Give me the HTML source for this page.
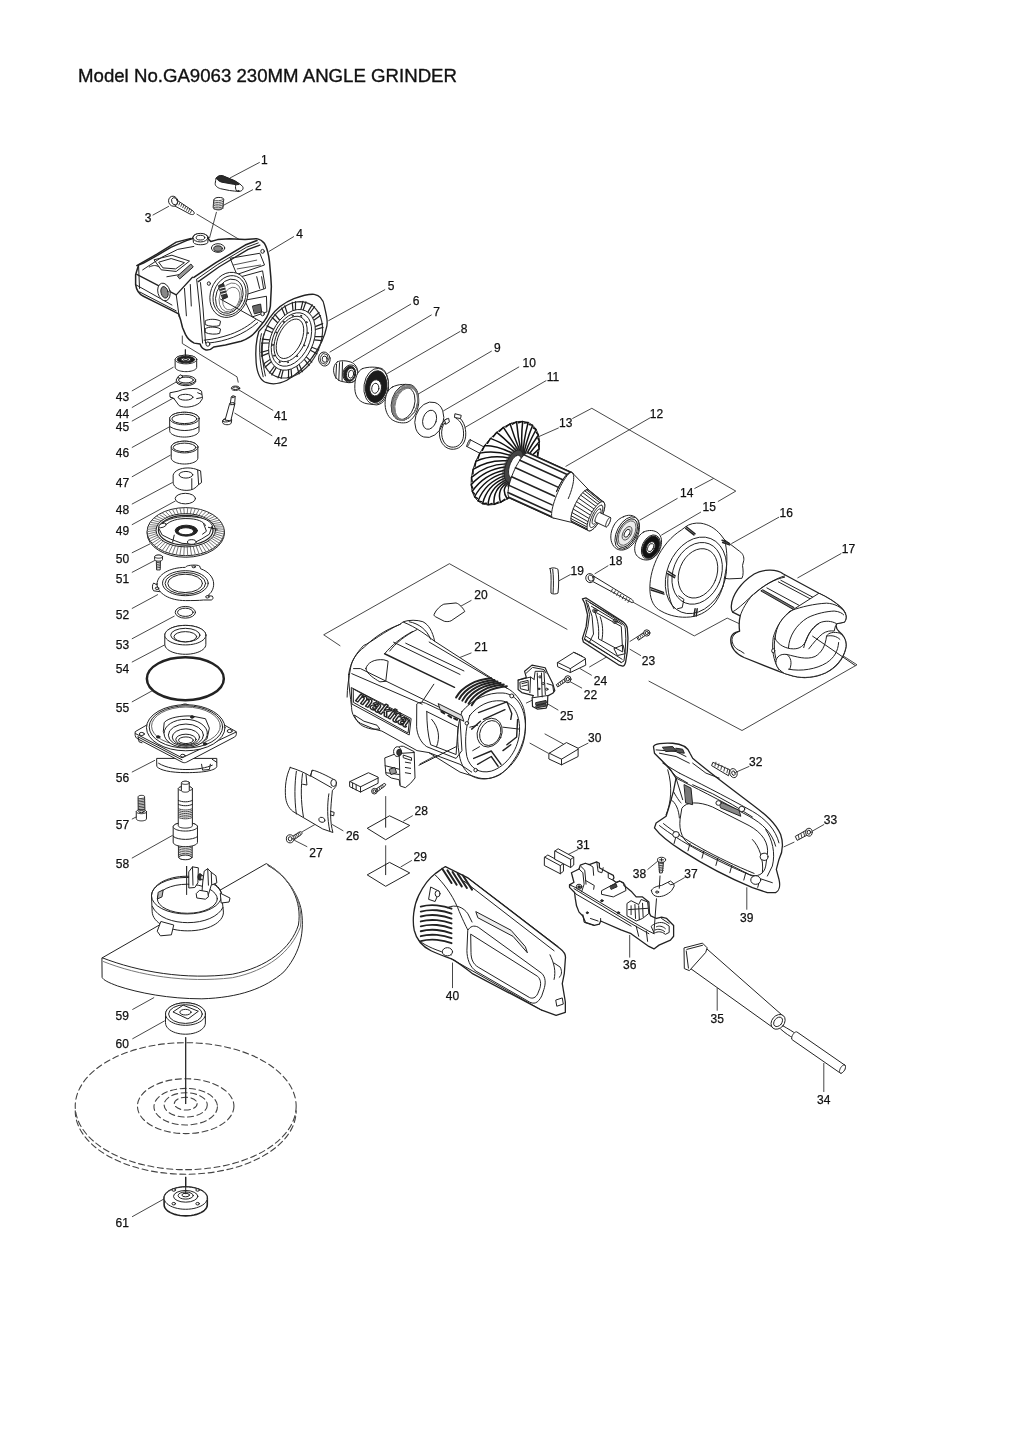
<!DOCTYPE html>
<html><head><meta charset="utf-8"><style>
html,body{margin:0;padding:0;background:#fff;}
body{width:1024px;height:1449px;overflow:hidden;position:relative;}
svg{position:absolute;left:0;top:0;}
svg *{vector-effect:non-scaling-stroke;}
svg{filter:grayscale(100%);}
.t{font-family:"Liberation Sans",sans-serif;}
</style></head><body>
<svg width="1024" height="1449" viewBox="0 0 1024 1449">
<text x="78" y="82" class="t" font-size="18.5" fill="#111" stroke="#111" stroke-width="0.35" textLength="379" lengthAdjust="spacingAndGlyphs">Model No.GA9063 230MM ANGLE GRINDER</text>
<g fill="none" stroke="#333" stroke-width="0.9" stroke-linecap="round" stroke-linejoin="round">
<polyline points="259.4,162.5 230.0,178.0"/>
<polyline points="252.6,189.8 223.3,205.4"/>
<polyline points="153.0,215.0 168.6,206.4"/>
<polyline points="293.6,236.7 269.2,251.3"/>
<polyline points="384.8,289.7 328.7,320.6"/>
<polyline points="410.7,304.2 330.0,352.0"/>
<polyline points="431.3,315.0 353.3,361.6"/>
<polyline points="460.0,331.5 387.5,373.4"/>
<polyline points="491.4,351.2 417.6,394.4"/>
<polyline points="518.8,367.0 443.6,410.8"/>
<polyline points="546.0,380.7 465.4,427.2"/>
<polyline points="649.8,418.0 565.9,466.3"/>
<polyline points="558.4,428.0 537.9,437.0"/>
<polyline points="572.7,418.4 591.8,408.3 735.8,491.1 718.2,501.4"/>
<polyline points="694.8,488.4 713.3,478.6"/>
<polyline points="677.2,498.5 640.0,520.0"/>
<polyline points="700.6,512.2 661.6,535.0"/>
<polyline points="778.7,517.3 731.7,543.5"/>
<polyline points="841.0,553.6 797.8,577.8"/>
<polyline points="608.0,565.8 595.0,573.7"/>
<polyline points="570.3,574.6 558.9,580.8"/>
<polyline points="471.1,600.5 460.1,606.6"/>
<polyline points="471.1,653.0 458.9,657.9"/>
<polyline points="581.7,688.0 570.3,681.8"/>
<polyline points="640.6,655.5 630.0,649.3"/>
<polyline points="591.4,675.2 580.0,668.6"/>
<polyline points="558.0,710.0 547.5,703.8"/>
<polyline points="343.0,830.7 332.4,824.6"/>
<polyline points="306.9,846.6 294.6,840.4"/>
<polyline points="412.4,815.8 403.6,821.0"/>
<polyline points="411.5,860.6 401.0,866.8"/>
<polyline points="588.0,743.2 578.1,748.2"/>
<polyline points="578.1,849.5 568.1,854.5"/>
<polyline points="749.0,766.5 737.5,771.5"/>
<polyline points="823.8,824.6 812.2,831.2"/>
<polyline points="823.8,1063.4 823.8,1091.6"/>
<polyline points="717.2,988.4 717.2,1010.3"/>
<polyline points="629.7,935.3 629.7,957.2"/>
<polyline points="684.4,877.7 672.7,884.4"/>
<polyline points="647.8,869.4 657.8,861.1"/>
<polyline points="746.8,887.7 746.8,909.3"/>
<polyline points="452.5,963.0 452.5,987.7"/>
<polyline points="272.9,410.3 238.7,389.8"/>
<polyline points="271.9,435.7 234.8,413.2"/>
<polyline points="132.2,390.8 173.2,367.3"/>
<polyline points="132.2,407.4 176.2,382.0"/>
<polyline points="132.2,421.0 172.3,398.6"/>
<polyline points="132.2,447.4 169.3,426.9"/>
<polyline points="132.2,476.7 170.3,455.2"/>
<polyline points="132.2,504.0 172.3,482.6"/>
<polyline points="132.2,524.6 175.2,501.1"/>
<polyline points="132.2,552.7 149.8,544.0"/>
<polyline points="132.2,572.3 154.7,560.5"/>
<polyline points="132.2,608.4 157.6,594.7"/>
<polyline points="132.2,638.7 174.2,616.2"/>
<polyline points="132.2,662.0 165.4,644.5"/>
<polyline points="132.2,701.8 151.8,691.0"/>
<polyline points="132.2,772.0 154.7,760.4"/>
<polyline points="132.2,819.0 136.1,817.0"/>
<polyline points="132.2,858.0 172.3,835.5"/>
<polyline points="132.7,1009.4 153.8,997.7"/>
<polyline points="132.7,1038.7 164.4,1021.0"/>
<polyline points="132.4,1216.6 164.1,1198.9"/>
<polyline points="196.9,214.2 242.8,241.6"/>
<polyline points="216.4,212.3 209.6,237.7"/>
<polyline points="182.3,336.0 182.3,343.5 237.0,376.8 238.2,382.2"/>
<polyline points="185.4,349.8 185.4,358.0"/>
<polyline points="221.0,299.5 262.9,321.0"/>
<polyline points="340.0,645.7 323.7,634.8 449.4,563.7 567.0,629.3"/>
<polyline points="632.6,602.0 694.3,635.9 727.2,618.1 740.0,624.0"/>
<polyline points="649.0,681.2 742.0,730.5 857.0,664.8 812.6,636.2"/>
<polyline points="530.0,743.2 548.2,753.2"/>
<polyline points="545.0,734.0 563.2,743.9"/>
<polyline points="419.9,764.0 454.0,745.8"/>
<polyline points="302.5,831.6 321.0,821.0"/>
<polyline points="385.7,796.5 385.7,827.2"/>
<polyline points="385.7,845.7 385.7,874.7"/>
<polyline points="784.0,846.8 794.0,842.2"/>
<polyline points="185.7,1037.6 185.7,1103.6"/>
<polyline points="185.7,1177.3 185.7,1192.5"/>
<polyline points="186.6,866.4 186.6,894.5"/>
<polyline points="589.6,666.9 621.3,648.4"/>
<polyline points="526.4,703.0 552.7,690.6"/>
<polyline points="630.0,641.4 637.0,637.0"/>
</g>
<g stroke="#222" stroke-width="1" fill="#fff" stroke-linejoin="round" stroke-linecap="round">
<g transform="translate(160,165) scale(0.087889)"><path d="M640,150 C650,125 680,115 710,120 L840,175 C880,195 920,220 940,245 C955,270 935,300 900,300 C870,300 830,295 790,290 L690,270 C650,258 625,235 628,210 C630,185 635,165 640,150 Z" /><path d="M645,148 C660,125 690,118 715,125 L850,180 C885,198 905,215 900,222 C880,225 860,225 840,220 L700,195 C670,185 648,170 645,148 Z" fill="#2a2a2a"/><path d="M862,228 C855,250 858,275 870,292" fill="none"/><ellipse cx="890" cy="296" rx="8" ry="6" fill="#111"/><path d="M612,395 C615,375 650,365 690,370 C720,375 728,385 725,395 L715,480 C712,505 680,515 650,510 C620,505 605,495 605,485 Z" /><path d="M610,400 C640,412 690,410 722,392" fill="none" stroke="#555"/><path d="M610,420 C640,432 690,430 722,412" fill="none" stroke="#555"/><path d="M610,440 C640,452 690,450 722,432" fill="none" stroke="#555"/><path d="M610,460 C640,472 690,470 722,452" fill="none" stroke="#555"/><path d="M610,480 C640,492 690,490 722,472" fill="none" stroke="#555"/><path d="M610,498 C640,510 690,508 722,490" fill="none" stroke="#555"/><path d="M190,398 L365,515 C385,528 395,545 388,556 C380,566 362,566 345,560 L160,462 Z" /><path d="M205,412 l-12,28" fill="none" stroke="#444"/><path d="M227,427 l-12,28" fill="none" stroke="#444"/><path d="M249,442 l-12,28" fill="none" stroke="#444"/><path d="M271,457 l-12,28" fill="none" stroke="#444"/><path d="M293,472 l-12,28" fill="none" stroke="#444"/><path d="M315,487 l-12,28" fill="none" stroke="#444"/><path d="M337,502 l-12,28" fill="none" stroke="#444"/><path d="M359,517 l-12,28" fill="none" stroke="#444"/><ellipse cx="150" cy="412" rx="52" ry="58" transform="rotate(-20 150 412)" /><ellipse cx="165" cy="412" rx="32" ry="42" transform="rotate(-20 165 412)" /></g>
<g transform="translate(120,140) scale(0.195312)"><path d="M80,690 L95,640 L120,630 L175,600 L260,550 L340,515 L372,505 C375,490 392,480 412,480 C435,481 452,492 455,510 L465,520 L500,510 L560,505 L640,510 L700,505 C715,508 728,515 740,530 C752,550 760,580 765,620 L772,700 L775,750 L770,850 C765,880 755,905 740,925 L700,975 C680,1000 650,1020 620,1030 L540,1050 L480,1060 C470,1070 455,1077 440,1075 C425,1072 415,1060 410,1045 L380,1040 C360,1030 345,1015 335,995 L320,960 L310,920 L300,890 L260,870 L180,830 L120,800 C100,790 85,775 80,740 Z" stroke-width="1.5"/><path d="M86,643 L191,583 L288,523 L364,504" fill="none" stroke-width="1.4"/><path d="M116,665 L213,601 L296,560 L378,545" fill="none"/><path d="M176,613 L266,590 L356,620 L288,673 L213,665 Z" fill="none"/><path d="M200,625 L262,607 L330,628 L285,660 L222,655 Z" fill="none"/><path d="M296,695 L363,635 L375,650 L307,710 Z" fill="#999"/><path d="M240,700 L300,690 M150,650 C170,640 185,640 200,650" fill="none"/><path d="M95,640 L100,760" fill="none"/><path d="M86,688 L288,793 L371,703" fill="none" stroke-width="1.3"/><path d="M79,740 L266,845" fill="none"/><path d="M101,778 L288,875" fill="none"/><path d="M288,793 L303,905" fill="none"/><path d="M330,760 L340,900 M360,740 L365,850" fill="none"/><ellipse cx="225" cy="778" rx="31" ry="46" transform="rotate(-15 225 778)" /><ellipse cx="228" cy="780" rx="18" ry="30" transform="rotate(-15 228 780)" fill="#888"/><path d="M378,703 L491,628 L641,538 L701,515" fill="none" stroke-width="1.6"/><path d="M401,725 L506,650 L656,560 L716,538" fill="none" stroke-width="1.3"/><path d="M391,714 L498,639 L648,549 L708,527" fill="none"/><path d="M393,718 L408,860 L423,1040 M412,730 L425,860 L438,1040" fill="none"/><path d="M566,605 L716,580 L740,640 L600,688 Z" fill="none"/><path d="M620,700 L730,670 L745,760 L650,790 Z" fill="none"/><path d="M640,820 L750,800 L752,880 L680,905 Z" fill="none"/><path d="M580,640 L700,615 M600,660 L720,640" fill="none" stroke="#555"/><path d="M680,850 L720,840 L725,880 L690,890 Z" fill="#666"/><path d="M700,700 L715,760 M725,700 L735,760" fill="none"/><ellipse cx="558" cy="793" rx="95" ry="118" transform="rotate(20 558 793)" /><ellipse cx="561" cy="796" rx="82" ry="104" transform="rotate(20 561 796)" fill="none"/><ellipse cx="560" cy="800" rx="68" ry="90" transform="rotate(20 560 800)" /><ellipse cx="565" cy="806" rx="55" ry="76" transform="rotate(20 565 806)" fill="none" stroke="#777"/><ellipse cx="570" cy="812" rx="42" ry="60" transform="rotate(20 570 812)" fill="none" stroke="#777"/><path d="M506,745 L530,735 L551,805 L528,815 Z" fill="#333"/><path d="M512,760 L540,752 M516,775 L544,767 M520,790 L548,782" fill="none" stroke="#fff"/><path d="M438,925 C455,915 495,915 515,928 L510,950 C495,956 455,956 438,946 Z" fill="none"/><path d="M438,965 C455,955 495,955 515,968 L510,990 C495,996 455,996 438,986 Z" fill="none"/><path d="M431,1025 C480,1020 520,1010 566,995 C620,975 660,950 694,920" fill="none"/><path d="M450,1040 C500,1035 540,1025 580,1010 C630,990 670,965 705,935" fill="none"/><ellipse cx="730" cy="570" rx="9" ry="10" /><ellipse cx="730" cy="890" rx="9" ry="10" /><ellipse cx="450" cy="1045" rx="10" ry="11" /><ellipse cx="502" cy="553" rx="34" ry="22" /><ellipse cx="502" cy="556" rx="22" ry="14" fill="#888"/><path d="M374,500 L376,525 C385,540 440,540 450,525 L450,500" fill="#fff"/><ellipse cx="412" cy="500" rx="38" ry="22" /><ellipse cx="412" cy="500" rx="22" ry="12" fill="none"/><ellipse cx="455" cy="735" rx="8" ry="9" /><polyline points="515,815 730,935" fill="none" /></g>
<g transform="translate(250,288) scale(0.087889)"><path d="M100,495 C150,450 190,400 230,330 C300,230 400,160 500,120 C590,88 670,66 730,72 C790,82 830,120 845,200 C860,280 890,360 875,430 C850,560 790,680 700,800 C620,900 520,990 420,1050 C340,1090 250,1100 180,1075 C120,1050 80,960 70,850 C60,720 70,590 100,495 Z" stroke-width="1.3"/><path d="M130,520 C100,640 100,800 150,1010" fill="none"/><path d="M160,520 C130,640 130,800 175,1000" fill="none"/><path d="M768.0,725.2 L746.3,767.6 L721.7,808.0 L694.4,846.0 L664.7,881.3 L633.0,913.3 L599.6,941.8 L564.9,966.4 L529.2,986.9 L492.9,1003.1 L456.5,1014.7 L420.3,1021.7 L384.7,1024.0 L350.2,1021.5 L317.1,1014.2 L285.7,1002.4 L256.4,986.0 L229.6,965.2 L205.5,940.4 L184.4,911.7 L166.5,879.5 L152.0,844.1 L141.0,806.0 L133.8,765.4 L130.3,723.0 L130.7,679.1 L134.8,634.2 L142.8,588.8 L154.3,543.5 L169.5,498.6 L188.0,454.8 L209.7,412.4 L234.3,372.0 L261.6,334.0 L291.3,298.7 L323.0,266.7 L356.4,238.2 L391.1,213.6 L426.8,193.1 L463.1,176.9 L499.5,165.3 L535.7,158.3 L571.3,156.0 L605.8,158.5 L638.9,165.8 L670.3,177.6 L699.6,194.0 L726.4,214.8 L750.5,239.6 L771.6,268.3 L789.5,300.5 L804.0,335.9 L815.0,374.0 L822.2,414.6 L825.7,457.0 L825.3,500.9 L821.2,545.8 L813.2,591.2 L801.7,636.5 L786.5,681.4 L768.0,725.2 Z" fill="none" stroke="#333" stroke-width="1.2"/><path d="M703,674 L782,705" fill="none" stroke="#222" stroke-width="1.2"/><path d="M687,709 L762,749" fill="none" stroke="#222" stroke-width="1.2"/><path d="M641,784 L703,844" fill="none" stroke="#222" stroke-width="1.2"/><path d="M618,813 L673,880" fill="none" stroke="#222" stroke-width="1.2"/><path d="M559,870 L596,952" fill="none" stroke="#222" stroke-width="1.2"/><path d="M532,890 L560,976" fill="none" stroke="#222" stroke-width="1.2"/><path d="M467,923 L475,1016" fill="none" stroke="#222" stroke-width="1.2"/><path d="M439,931 L438,1025" fill="none" stroke="#222" stroke-width="1.2"/><path d="M377,935 L354,1029" fill="none" stroke="#222" stroke-width="1.2"/><path d="M351,931 L320,1022" fill="none" stroke="#222" stroke-width="1.2"/><path d="M298,906 L248,989" fill="none" stroke="#222" stroke-width="1.2"/><path d="M279,890 L221,967" fill="none" stroke="#222" stroke-width="1.2"/><path d="M242,839 L170,901" fill="none" stroke="#222" stroke-width="1.2"/><path d="M230,812 L154,866" fill="none" stroke="#222" stroke-width="1.2"/><path d="M214,741 L129,775" fill="none" stroke="#222" stroke-width="1.2"/><path d="M211,708 L125,732" fill="none" stroke="#222" stroke-width="1.2"/><path d="M218,626 L131,627" fill="none" stroke="#222" stroke-width="1.2"/><path d="M225,590 L139,581" fill="none" stroke="#222" stroke-width="1.2"/><path d="M253,506 L174,475" fill="none" stroke="#222" stroke-width="1.2"/><path d="M269,471 L194,431" fill="none" stroke="#222" stroke-width="1.2"/><path d="M315,396 L253,336" fill="none" stroke="#222" stroke-width="1.2"/><path d="M338,367 L283,300" fill="none" stroke="#222" stroke-width="1.2"/><path d="M397,310 L360,228" fill="none" stroke="#222" stroke-width="1.2"/><path d="M424,290 L396,204" fill="none" stroke="#222" stroke-width="1.2"/><path d="M489,257 L481,164" fill="none" stroke="#222" stroke-width="1.2"/><path d="M517,249 L518,155" fill="none" stroke="#222" stroke-width="1.2"/><path d="M579,245 L602,151" fill="none" stroke="#222" stroke-width="1.2"/><path d="M605,249 L636,158" fill="none" stroke="#222" stroke-width="1.2"/><path d="M658,274 L708,191" fill="none" stroke="#222" stroke-width="1.2"/><path d="M677,290 L735,213" fill="none" stroke="#222" stroke-width="1.2"/><path d="M714,341 L786,279" fill="none" stroke="#222" stroke-width="1.2"/><path d="M726,368 L802,314" fill="none" stroke="#222" stroke-width="1.2"/><path d="M742,439 L827,405" fill="none" stroke="#222" stroke-width="1.2"/><path d="M745,472 L831,448" fill="none" stroke="#222" stroke-width="1.2"/><path d="M738,554 L825,553" fill="none" stroke="#222" stroke-width="1.2"/><path d="M731,590 L817,599" fill="none" stroke="#222" stroke-width="1.2"/><ellipse cx="478" cy="590" rx="240" ry="365" transform="rotate(25 478 590)" /><ellipse cx="472" cy="586" rx="205" ry="322" transform="rotate(25 472 586)" fill="none"/><ellipse cx="462" cy="580" rx="165" ry="275" transform="rotate(25 462 580)" fill="none"/><ellipse cx="455" cy="578" rx="132" ry="240" transform="rotate(25 455 578)" /><ellipse cx="616.604" cy="653.958" rx="7" ry="7" /><ellipse cx="534.075" cy="775.464" rx="7" ry="7" /><ellipse cx="431.162" cy="844.596" rx="7" ry="7" /><ellipse cx="335.441" cy="842.829" rx="7" ry="7" /><ellipse cx="272.559" cy="770.638" rx="7" ry="7" /><ellipse cx="259.365" cy="647.365" rx="7" ry="7" /><ellipse cx="299.396" cy="506.042" rx="7" ry="7" /><ellipse cx="381.925" cy="384.536" rx="7" ry="7" /><ellipse cx="484.838" cy="315.404" rx="7" ry="7" /><ellipse cx="580.559" cy="317.171" rx="7" ry="7" /><ellipse cx="643.441" cy="389.362" rx="7" ry="7" /><ellipse cx="656.635" cy="512.635" rx="7" ry="7" /><ellipse cx="846" cy="808" rx="66" ry="80" transform="rotate(-10 846 808)" /><path d="M800,790 L830,745 L880,760 L893,820 L862,868 L812,852 Z" fill="none" stroke="#444"/><ellipse cx="850" cy="810" rx="28" ry="36" transform="rotate(-10 850 810)" fill="none"/></g>
<g transform="translate(318,350) scale(0.148438)"><path d="M130,80 C150,68 195,70 230,85 C260,100 272,135 268,170 C262,205 240,222 205,220 L160,212 C130,205 108,180 105,140 C104,115 112,92 130,80 Z" /><path d="M125,95 L120,190 M145,85 L140,205 M165,80 L162,210" fill="none"/><ellipse cx="218" cy="160" rx="50" ry="60" transform="rotate(10 218 160)" /><ellipse cx="214" cy="160" rx="40" ry="52" transform="rotate(10 214 160)" fill="#222"/><ellipse cx="220" cy="162" rx="28" ry="40" transform="rotate(10 220 162)" /><ellipse cx="222" cy="163" rx="18" ry="27" transform="rotate(10 222 163)" fill="none"/><path d="M300,125 C340,112 390,112 430,125 C465,145 478,200 475,260 C470,320 440,365 395,370 L330,362 C285,355 250,320 248,260 C246,190 265,140 300,125 Z" /><ellipse cx="392" cy="245" rx="82" ry="122" transform="rotate(8 392 245)" /><ellipse cx="392" cy="247" rx="72" ry="108" transform="rotate(8 392 247)" fill="#1a1a1a"/><ellipse cx="388" cy="255" rx="40" ry="55" transform="rotate(8 388 255)" /><ellipse cx="386" cy="258" rx="24" ry="34" transform="rotate(8 386 258)" fill="none"/><path d="M500,250 C540,228 600,225 640,245 C670,265 682,310 678,360 C672,420 640,470 600,488 C570,495 530,490 500,470 C465,445 450,400 452,350 C455,300 470,268 500,250 Z" /><ellipse cx="585" cy="352" rx="88" ry="125" transform="rotate(18 585 352)" fill="none"/><ellipse cx="575" cy="362" rx="75" ry="112" transform="rotate(18 575 362)" /><ellipse cx="587" cy="354" rx="85" ry="122" transform="rotate(18 587 354)" fill="none" stroke="#777"/><ellipse cx="589" cy="356" rx="82" ry="119" transform="rotate(18 589 356)" fill="none" stroke="#777"/><ellipse cx="591" cy="358" rx="79" ry="116" transform="rotate(18 591 358)" fill="none" stroke="#777"/><ellipse cx="593" cy="360" rx="76" ry="113" transform="rotate(18 593 360)" fill="none" stroke="#777"/><ellipse cx="595" cy="362" rx="73" ry="110" transform="rotate(18 595 362)" fill="none" stroke="#777"/><ellipse cx="750" cy="470" rx="95" ry="122" transform="rotate(18 750 470)" /><ellipse cx="752" cy="470" rx="45" ry="66" transform="rotate(18 752 470)" /><path d="M935,445 C975,460 1000,520 995,580 C990,640 945,675 895,668 C845,660 815,610 818,550 C820,510 838,480 865,465" fill="none" stroke-width="1"/><path d="M930,460 C965,478 985,525 980,580 C975,630 940,660 897,654 C855,648 832,605 833,552 C835,515 848,492 868,480" fill="none"/><path d="M925,430 L965,440 L960,462 L922,455 Z" /><path d="M855,470 L880,460 L885,485 L862,500 Z" /></g>
<g transform="translate(460,410) scale(0.156250)"><path d="M44.2,231.6 L44.3,230.1 L44.6,228.2 L45.1,226.1 L45.7,223.8 L46.5,221.3 L47.5,218.6 L48.5,215.8 L49.7,212.9 L51.0,210.0 L52.3,207.2 L53.7,204.4 L55.1,201.7 L56.5,199.3 L57.9,197.0 L59.2,195.0 L60.5,193.3 L61.7,191.9 L62.7,190.9 L63.6,190.2 L64.4,189.9 L65.0,190.0 L160.0,240.0 L160.4,240.4 L160.7,241.3 L160.8,242.4 L160.7,243.9 L160.4,245.8 L159.9,247.9 L159.3,250.2 L158.5,252.7 L157.5,255.4 L156.4,258.2 L155.3,261.1 L154.0,264.0 L152.7,266.9 L151.3,269.6 L149.9,272.3 L148.5,274.7 L147.1,277.0 L145.8,279.0 L144.5,280.7 L143.3,282.1 L142.3,283.1 L141.4,283.8 L140.6,284.1 L140.0,284.0 L45.0,234.0 L44.6,233.6 L44.3,232.7 Z" /><path d="M65.0,190.0 L64.4,189.9 L63.6,190.2 L62.7,190.9 L61.7,191.9 L60.5,193.3 L59.2,195.0 L57.9,197.0 L56.5,199.3 L55.1,201.7 L53.7,204.4 L52.3,207.1 L51.0,210.0 L49.7,212.9 L48.5,215.8 L47.5,218.6 L46.5,221.3 L45.7,223.8 L45.1,226.1 L44.6,228.2 L44.3,230.1 L44.2,231.6 L44.3,232.7 L44.6,233.6 L45.0,234.0 L45.6,234.1 L46.4,233.8 L47.3,233.1 L48.3,232.1 L49.5,230.7 L50.8,229.0 L52.1,227.0 L53.5,224.7 L54.9,222.3 L56.3,219.6 L57.7,216.9 L59.0,214.0 L60.3,211.1 L61.5,208.2 L62.5,205.4 L63.5,202.7 L64.3,200.2 L64.9,197.9 L65.4,195.8 L65.7,193.9 L65.8,192.4 L65.7,191.3 L65.4,190.4 L65.0,190.0 Z" /><path d="M330.0,85.0 L311.1,92.9 L292.1,102.8 L273.0,114.4 L254.1,127.7 L235.4,142.7 L217.1,159.2 L199.4,177.0 L182.4,196.1 L166.3,216.3 L151.0,237.4 L136.8,259.3 L123.8,281.8 L112.0,304.7 L101.6,328.0 L92.7,351.3 L85.2,374.5 L79.3,397.5 L75.0,420.0 L72.3,441.9 L71.3,463.1 L72.0,483.3 L74.3,502.4 L78.2,520.3 L83.8,536.8 L90.9,551.8 L99.6,565.2 L109.7,576.9 L121.2,586.8 L133.9,594.8 L147.9,600.8 L162.9,604.9 L178.9,607.0 L195.7,607.0 L213.3,605.0 L231.4,601.0 L250.0,595.0 L268.9,587.1 L287.9,577.2 L307.0,565.6 L325.9,552.3 L344.6,537.3 L362.9,520.8 L380.6,503.0 L397.6,483.9 L413.7,463.7 L429.0,442.6 L443.2,420.7 L456.2,398.2 L468.0,375.3 L478.4,352.0 L487.3,328.7 L494.8,305.5 L500.7,282.5 L505.0,260.0 L507.7,238.1 L508.7,216.9 L508.0,196.7 L505.7,177.6 L501.8,159.7 L496.2,143.2 L489.1,128.2 L480.4,114.8 L470.3,103.1 L458.8,93.2 L446.1,85.2 L432.1,79.2 L417.1,75.1 L401.1,73.0 L384.3,73.0 L366.7,75.0 L348.6,79.0 L330.0,85.0 Z" /><path d="M360.0,260.0 Q296.0,190.3 235.4,142.7 L212.4,171.4" fill="none" stroke="#111" stroke-width="1.5"/><path d="M348.0,266.8 Q269.5,207.1 195.1,181.7 L175.4,213.0" fill="none" stroke="#111" stroke-width="1.5"/><path d="M335.9,277.2 Q243.7,229.0 158.5,226.7 L142.7,259.5" fill="none" stroke="#111" stroke-width="1.5"/><path d="M324.1,290.7 Q219.7,255.1 126.9,276.1 L115.8,309.2" fill="none" stroke="#111" stroke-width="1.5"/><path d="M313.2,307.0 Q198.5,284.5 101.6,328.0 L95.5,360.0" fill="none" stroke="#111" stroke-width="1.5"/><path d="M303.4,325.2 Q180.7,316.0 83.6,380.3 L82.7,410.0" fill="none" stroke="#111" stroke-width="1.5"/><path d="M295.3,344.8 Q167.2,348.4 73.5,431.0 L77.9,457.4" fill="none" stroke="#111" stroke-width="1.5"/><path d="M289.1,365.0 Q158.3,380.6 71.7,478.3 L81.2,500.2" fill="none" stroke="#111" stroke-width="1.5"/><path d="M285.0,385.0 Q154.5,411.1 78.2,520.3 L92.6,536.9" fill="none" stroke="#111" stroke-width="1.5"/><path d="M283.2,404.0 Q156.0,439.0 93.0,555.3 L111.5,566.0" fill="none" stroke="#111" stroke-width="1.5"/><path d="M283.8,421.4 Q162.6,463.0 115.3,582.1 L137.3,586.4" fill="none" stroke="#111" stroke-width="1.5"/><path d="M286.8,436.3 Q174.0,482.3 144.3,599.5 L169.0,597.4" fill="none" stroke="#111" stroke-width="1.5"/><path d="M292.0,448.4 Q190.0,496.1 178.9,607.0 L205.3,598.5" fill="none" stroke="#111" stroke-width="1.5"/><path d="M299.2,457.0 Q209.8,503.9 217.8,604.2 L244.8,589.6" fill="none" stroke="#111" stroke-width="1.5"/><path d="M308.2,462.0 Q232.6,505.5 259.4,591.3 L286.2,571.2" fill="none" stroke="#111" stroke-width="1.5"/><path d="M318.6,463.0 Q257.7,500.7 302.2,568.7 L327.6,543.8" fill="none" stroke="#111" stroke-width="1.5"/><path d="M330.0,460.0 Q284.0,489.7 344.6,537.3 L367.6,508.6" fill="none" stroke="#111" stroke-width="1.5"/><path d="M342.0,453.2 Q310.5,472.9 384.9,498.3 L404.6,467.0" fill="none" stroke="#111" stroke-width="1.5"/><path d="M354.1,442.8 Q336.3,451.0 421.5,453.3 L437.3,420.5" fill="none" stroke="#111" stroke-width="1.5"/><path d="M365.9,429.3 Q360.3,424.9 453.1,403.9 L464.2,370.8" fill="none" stroke="#111" stroke-width="1.5"/><path d="M376.8,413.0 Q381.5,395.5 478.4,352.0 L484.5,320.0" fill="none" stroke="#111" stroke-width="1.5"/><path d="M386.6,394.8 Q399.3,364.0 496.4,299.7 L497.3,270.0" fill="none" stroke="#111" stroke-width="1.5"/><path d="M394.7,375.2 Q412.8,331.6 506.5,249.0 L502.1,222.6" fill="none" stroke="#111" stroke-width="1.5"/><path d="M400.9,355.0 Q421.7,299.4 508.3,201.7 L498.8,179.8" fill="none" stroke="#111" stroke-width="1.5"/><path d="M405.0,335.0 Q425.5,268.9 501.8,159.7 L487.4,143.1" fill="none" stroke="#111" stroke-width="1.5"/><path d="M406.8,316.0 Q424.0,241.0 487.0,124.7 L468.5,114.0" fill="none" stroke="#111" stroke-width="1.5"/><path d="M406.2,298.6 Q417.4,217.0 464.7,97.9 L442.7,93.6" fill="none" stroke="#111" stroke-width="1.5"/><path d="M403.2,283.7 Q406.0,197.7 435.7,80.5 L411.0,82.6" fill="none" stroke="#111" stroke-width="1.5"/><path d="M398.0,271.6 Q390.0,183.9 401.1,73.0 L374.7,81.5" fill="none" stroke="#111" stroke-width="1.5"/><path d="M390.8,263.0 Q370.2,176.1 362.2,75.8 L335.2,90.4" fill="none" stroke="#111" stroke-width="1.5"/><path d="M381.8,258.0 Q347.4,174.5 320.6,88.7 L293.8,108.8" fill="none" stroke="#111" stroke-width="1.5"/><path d="M371.4,257.0 Q322.3,179.3 277.8,111.3 L252.4,136.2" fill="none" stroke="#111" stroke-width="1.5"/><path d="M367.0,235.0 L357.0,240.2 L346.8,247.5 L336.6,256.8 L326.6,267.7 L316.8,280.3 L307.5,294.2 L298.9,309.3 L291.0,325.2 L284.1,341.7 L278.2,358.6 L273.5,375.4 L270.0,392.0 L267.8,408.0 L266.9,423.3 L267.3,437.4 L269.0,450.2 L272.1,461.5 L276.4,471.0 L281.9,478.6 L288.4,484.3 L296.0,487.7 L304.3,489.0 L313.4,488.1 L323.0,485.0 L333.0,479.8 L343.2,472.5 L353.4,463.2 L363.4,452.3 L373.2,439.7 L382.5,425.8 L391.1,410.7 L399.0,394.8 L405.9,378.3 L411.8,361.4 L416.5,344.6 L420.0,328.0 L422.2,312.0 L423.1,296.7 L422.7,282.6 L421.0,269.8 L417.9,258.5 L413.6,249.0 L408.1,241.4 L401.6,235.7 L394.0,232.3 L385.7,231.0 L376.6,231.9 L367.0,235.0 Z" fill="#333" stroke="none" opacity="0.55"/><path d="M360.0,260.0 L352.0,264.1 L344.0,269.9 L335.9,277.2 L328.0,285.9 L320.4,295.9 L313.2,307.0 L306.5,319.0 L300.5,331.7 L295.3,344.8 L290.9,358.3 L287.5,371.7 L285.0,385.0 L283.6,397.8 L283.2,410.0 L283.8,421.4 L285.5,431.7 L288.3,440.7 L292.0,448.4 L296.6,454.6 L302.0,459.1 L308.2,462.0 L315.0,463.1 L322.3,462.4 L330.0,460.0 L338.0,455.9 L346.0,450.1 L354.1,442.8 L362.0,434.1 L369.6,424.1 L376.8,413.0 L383.5,401.0 L389.5,388.3 L394.7,375.2 L399.1,361.7 L402.5,348.3 L405.0,335.0 L406.4,322.2 L406.8,310.0 L406.2,298.6 L404.5,288.3 L401.7,279.3 L398.0,271.6 L393.4,265.4 L388.0,260.9 L381.8,258.0 L375.0,256.9 L367.7,257.6 L360.0,260.0 Z" fill="#444"/><path d="M362.0,292.0 L356.7,294.9 L351.3,299.0 L345.9,304.2 L340.7,310.4 L335.6,317.4 L330.8,325.2 L326.4,333.7 L322.4,342.6 L318.9,351.8 L316.0,361.3 L313.6,370.7 L312.0,380.0 L311.0,389.0 L310.8,397.5 L311.2,405.4 L312.4,412.6 L314.2,418.9 L316.6,424.2 L319.7,428.5 L323.3,431.6 L327.5,433.6 L332.0,434.3 L336.9,433.8 L342.0,432.0 L347.3,429.1 L352.7,425.0 L358.1,419.8 L363.3,413.6 L368.4,406.6 L373.2,398.8 L377.6,390.3 L381.6,381.4 L385.1,372.2 L388.0,362.7 L390.4,353.3 L392.0,344.0 L393.0,335.0 L393.2,326.5 L392.8,318.6 L391.6,311.4 L389.8,305.1 L387.4,299.8 L384.3,295.5 L380.7,292.4 L376.5,290.4 L372.0,289.7 L367.1,290.2 L362.0,292.0 Z" fill="#fff"/><path d="M307.3,534.6 L307.7,521.6 L309.3,507.0 L312.1,490.8 L316.1,473.4 L321.2,455.2 L327.2,436.3 L334.2,417.1 L342.0,398.0 L350.4,379.3 L359.3,361.2 L368.6,344.2 L378.1,328.4 L387.6,314.3 L397.0,301.9 L406.1,291.6 L414.7,283.4 L422.7,277.6 L430.1,274.2 L436.5,273.4 L442.0,275.0 L717.0,400.0 L721.4,404.1 L724.7,410.6 L726.8,419.5 L727.7,430.4 L727.3,443.4 L725.7,458.0 L722.9,474.2 L718.9,491.6 L713.8,509.8 L707.8,528.7 L700.8,547.9 L693.0,567.0 L684.6,585.7 L675.7,603.8 L666.4,620.8 L656.9,636.5 L647.4,650.7 L638.0,663.1 L629.0,673.4 L620.3,681.6 L612.3,687.4 L605.0,690.8 L598.5,691.6 L593.0,690.0 L318.0,565.0 L313.6,560.9 L310.3,554.4 L308.2,545.5 Z" /><path d="M311.8,557.9 L586.8,682.9" fill="none" stroke-width="1.6"/><path d="M307.3,528.3 L582.3,653.3" fill="none" stroke-width="1.6"/><path d="M314.0,482.3 L589.0,607.3" fill="none" stroke-width="1.6"/><path d="M330.6,426.7 L605.6,551.7" fill="none" stroke-width="1.6"/><path d="M354.8,370.1 L629.8,495.1" fill="none" stroke-width="1.6"/><path d="M382.8,321.1 L657.8,446.1" fill="none" stroke-width="1.6"/><path d="M410.4,287.2 L685.4,412.2" fill="none" stroke-width="1.6"/><path d="M433.4,273.5 L708.4,398.5" fill="none" stroke-width="1.6"/><path d="M617.0,523.0 L625.4,504.3 L634.3,486.2 L643.6,469.2 L653.1,453.4 L662.6,439.3 L672.0,426.9 L681.1,416.6 L689.7,408.4 L697.7,402.6 L705.1,399.2 L711.5,398.4 L717.0,400.0 L721.4,404.1 L724.7,410.6 L726.8,419.5 L727.7,430.4 L727.3,443.4 L725.7,458.0 L722.9,474.2 L718.9,491.6 L713.8,509.8 L707.8,528.7 L700.8,547.9 L693.0,567.0" fill="none"/><path d="M586.2,672.5 L586.3,662.1 L587.5,649.7 L590.0,635.5 L593.5,619.8 L598.0,602.8 L603.6,584.8 L610.0,566.1 L617.2,547.1 L625.0,528.0 L633.4,509.2 L642.1,491.1 L651.0,473.8 L660.0,457.8 L668.9,443.2 L677.6,430.4 L685.9,419.6 L693.7,410.9 L700.8,404.5 L707.1,400.5 L712.5,399.0 L717.0,400.0 L720.4,403.5 L825.5,513.1 L828.0,518.0 L829.5,524.5 L830.0,532.6 L829.5,542.0 L828.0,552.8 L825.5,564.6 L822.0,577.2 L817.6,590.5 L812.4,604.2 L806.5,618.1 L800.0,632.0 L793.0,645.6 L785.5,658.6 L777.8,670.9 L770.0,682.2 L762.1,692.4 L754.4,701.3 L747.0,708.6 L740.0,714.4 L733.4,718.5 L727.5,720.8 L722.4,721.3 L593.0,690.0 L589.6,686.5 L587.4,680.7 Z" /><path d="M617.0,523.0 L625.4,504.3 L634.3,486.2 L643.6,469.2 L653.1,453.4 L662.6,439.3 L672.0,426.9 L681.1,416.6 L689.7,408.4 L697.7,402.6 L705.1,399.2 L711.5,398.4 L717.0,400.0 L721.4,404.1 L724.7,410.6 L726.8,419.5 L727.7,430.4 L727.3,443.4 L725.7,458.0 L722.9,474.2 L718.9,491.6 L713.8,509.8 L707.8,528.7 L700.8,547.9 L693.0,567.0" fill="none"/><path d="M710.0,697.4 L710.5,688.0 L712.0,677.2 L714.5,665.4 L718.0,652.8 L722.4,639.5 L727.6,625.8 L733.5,611.9 L740.0,598.0 L747.0,584.4 L754.5,571.4 L762.2,559.1 L770.0,547.8 L777.9,537.6 L785.6,528.7 L793.0,521.4 L800.0,515.6 L806.6,511.5 L812.5,509.2 L817.6,508.7 L822.0,510.0 L918.0,588.0 L921.5,591.0 L924.1,595.5 L925.8,601.5 L926.6,608.8 L926.3,617.4 L925.1,627.0 L923.0,637.5 L920.0,648.7 L916.1,660.5 L911.4,672.6 L906.0,684.9 L900.0,697.0 L893.5,708.9 L886.5,720.2 L879.4,730.9 L872.0,740.7 L864.6,749.5 L857.3,757.1 L850.2,763.3 L843.4,768.2 L837.1,771.5 L831.4,773.3 L826.3,773.4 L822.0,772.0 L718.0,720.0 L714.5,716.9 L712.0,712.0 L710.5,705.5 Z" /><path d="M715.0,717.4 L818.9,769.5" fill="none"/><path d="M711.0,708.5 L814.8,761.2" fill="none"/><path d="M710.0,694.9 L813.4,748.9" fill="none"/><path d="M712.0,677.2 L814.8,733.0" fill="none"/><path d="M716.9,656.5 L819.1,714.6" fill="none"/><path d="M724.5,633.6 L825.8,694.3" fill="none"/><path d="M734.4,609.9 L834.8,673.4" fill="none"/><path d="M746.0,586.4 L845.6,652.8" fill="none"/><path d="M758.9,564.3 L857.5,633.6" fill="none"/><path d="M772.3,544.7 L870.1,616.7" fill="none"/><path d="M785.6,528.7 L882.7,602.9" fill="none"/><path d="M798.1,517.0 L894.7,593.1" fill="none"/><path d="M809.2,510.3 L905.4,587.5" fill="none"/><path d="M818.3,508.8 L914.3,586.7" fill="none"/><path d="M918.0,588.0 L921.5,591.0 L924.1,595.5 L925.8,601.5 L926.6,608.8 L926.3,617.4 L925.2,627.0 L923.0,637.5 L920.0,648.7 L916.1,660.5 L911.4,672.6 L906.0,684.8 L900.0,697.0 L893.5,708.9 L886.6,720.2 L879.3,730.9 L872.0,740.7 L864.6,749.5 L857.3,757.1 L850.2,763.3 L843.4,768.2 L837.1,771.5 L831.4,773.3 L826.3,773.4 L822.0,772.0 L818.5,769.0 L815.9,764.5 L814.2,758.5 L813.4,751.2 L813.7,742.6 L814.8,733.0 L817.0,722.5 L820.0,711.3 L823.9,699.5 L828.6,687.4 L834.0,675.2 L840.0,663.0 L846.5,651.1 L853.4,639.8 L860.7,629.1 L868.0,619.3 L875.4,610.5 L882.7,602.9 L889.8,596.7 L896.6,591.8 L902.9,588.5 L908.6,586.7 L913.7,586.6 L918.0,588.0 Z" fill="#fff"/><path d="M908.0,611.0 L910.6,613.3 L912.5,616.7 L913.7,621.3 L914.2,626.9 L914.0,633.4 L913.0,640.7 L911.4,648.7 L909.1,657.3 L906.1,666.2 L902.6,675.4 L898.5,684.8 L894.0,694.0 L889.1,703.0 L883.9,711.7 L878.5,719.8 L873.1,727.3 L867.5,733.9 L862.1,739.7 L856.8,744.4 L851.8,748.1 L847.2,750.6 L842.9,752.0 L839.2,752.1 L836.0,751.0 L833.4,748.7 L831.5,745.3 L830.3,740.7 L829.8,735.1 L830.0,728.6 L831.0,721.3 L832.6,713.3 L834.9,704.7 L837.9,695.8 L841.4,686.6 L845.5,677.2 L850.0,668.0 L854.9,659.0 L860.1,650.3 L865.5,642.2 L870.9,634.7 L876.5,628.1 L881.9,622.3 L887.2,617.6 L892.2,613.9 L896.8,611.4 L901.1,610.0 L904.8,609.9 L908.0,611.0 Z" fill="none"/><path d="M898.0,634.0 L899.8,635.6 L901.1,638.0 L901.9,641.1 L902.3,644.9 L902.2,649.4 L901.6,654.4 L900.5,659.9 L899.0,665.8 L897.0,671.9 L894.7,678.3 L892.0,684.7 L889.0,691.0 L885.7,697.2 L882.3,703.1 L878.7,708.7 L875.0,713.8 L871.3,718.4 L867.6,722.3 L864.1,725.6 L860.7,728.1 L857.6,729.8 L854.7,730.7 L852.2,730.8 L850.0,730.0 L848.2,728.4 L846.9,726.0 L846.1,722.9 L845.7,719.1 L845.8,714.6 L846.4,709.6 L847.5,704.1 L849.0,698.2 L851.0,692.1 L853.3,685.7 L856.0,679.3 L859.0,673.0 L862.3,666.8 L865.7,660.9 L869.3,655.3 L873.0,650.2 L876.7,645.6 L880.4,641.7 L883.9,638.4 L887.3,635.9 L890.4,634.2 L893.3,633.3 L895.8,633.2 L898.0,634.0 Z" fill="#fff"/><path d="M863.9,709.5 L864.0,706.8 L864.4,703.7 L865.1,700.3 L866.1,696.7 L867.2,692.9 L868.6,688.9 L870.2,685.0 L872.0,681.0 L873.9,677.1 L875.9,673.4 L878.0,669.9 L880.1,666.7 L882.2,663.8 L884.2,661.2 L886.2,659.2 L888.1,657.5 L889.9,656.4 L891.5,655.7 L892.8,655.6 L894.0,656.0 L962.0,688.0 L962.9,688.9 L963.6,690.3 L964.0,692.2 L964.1,694.5 L964.0,697.2 L963.6,700.3 L962.9,703.7 L961.9,707.3 L960.8,711.1 L959.4,715.1 L957.8,719.0 L956.0,723.0 L954.1,726.9 L952.1,730.6 L950.0,734.1 L947.9,737.3 L945.8,740.2 L943.8,742.8 L941.8,744.8 L939.9,746.5 L938.1,747.6 L936.5,748.3 L935.2,748.4 L934.0,748.0 L866.0,716.0 L865.1,715.1 L864.4,713.7 L864.0,711.8 Z" /><path d="M962.0,688.0 L962.9,688.9 L963.6,690.3 L964.0,692.2 L964.1,694.5 L964.0,697.2 L963.6,700.3 L962.9,703.7 L961.9,707.3 L960.7,711.1 L959.4,715.1 L957.8,719.0 L956.0,723.0 L954.1,726.9 L952.1,730.6 L950.0,734.1 L947.9,737.3 L945.8,740.2 L943.8,742.7 L941.8,744.8 L939.9,746.5 L938.1,747.6 L936.5,748.3 L935.2,748.4 L934.0,748.0 L933.1,747.1 L932.4,745.7 L932.0,743.8 L931.9,741.5 L932.0,738.8 L932.4,735.7 L933.1,732.3 L934.1,728.7 L935.3,724.9 L936.6,720.9 L938.2,717.0 L940.0,713.0 L941.9,709.1 L943.9,705.4 L946.0,701.9 L948.1,698.7 L950.2,695.8 L952.2,693.3 L954.2,691.2 L956.1,689.5 L957.9,688.4 L959.5,687.7 L960.8,687.6 L962.0,688.0 Z" fill="#fff"/></g>
<g transform="translate(600,505) scale(0.078125)"><path d="M300,150 C360,120 420,125 470,170 C510,210 515,290 490,380 C460,480 380,560 300,575 C240,585 180,560 150,480 C125,410 140,320 190,240 C220,195 260,165 300,150 Z" /><ellipse cx="345" cy="358" rx="128" ry="225" transform="rotate(28 345 358)" /><ellipse cx="347" cy="360" rx="110" ry="200" transform="rotate(28 347 360)" fill="#d4d4d4"/><ellipse cx="347" cy="360" rx="92" ry="170" transform="rotate(28 347 360)" fill="#ececec" stroke="#666"/><ellipse cx="347" cy="362" rx="52" ry="95" transform="rotate(28 347 362)" fill="#ddd" stroke="#555"/><ellipse cx="347" cy="362" rx="30" ry="55" transform="rotate(28 347 362)" /><path d="M560,345 C620,315 700,320 745,360 C790,400 795,470 780,530 C760,610 700,680 630,700 C570,715 500,690 465,640 C435,595 438,520 470,450 C490,405 520,365 560,345 Z" /><ellipse cx="652" cy="540" rx="112" ry="165" transform="rotate(25 652 540)" /><ellipse cx="652" cy="540" rx="100" ry="150" transform="rotate(25 652 540)" fill="#111"/><ellipse cx="648" cy="545" rx="52" ry="80" transform="rotate(25 648 545)" /><ellipse cx="648" cy="545" rx="34" ry="55" transform="rotate(25 648 545)" fill="none"/></g>
<g transform="translate(640,515) scale(0.117188)"><path d="M390,100 C420,75 470,65 520,70 C580,80 640,110 690,170 L720,210 L850,310 C880,330 890,360 885,390 L875,430 C880,470 885,510 870,540 L760,545 L720,540 C715,600 690,680 640,750 C590,810 520,860 430,870 C340,880 250,860 180,820 C120,790 90,730 85,650 C80,560 100,470 140,380 C190,270 270,180 350,130 Z" /><path d="M720,210 C735,260 745,330 740,420 C735,470 725,510 720,540" fill="none"/><ellipse cx="478" cy="515" rx="248" ry="338" transform="rotate(22 478 515)" fill="none"/><ellipse cx="488" cy="498" rx="205" ry="272" transform="rotate(22 488 498)" fill="#fff"/><ellipse cx="495" cy="498" rx="160" ry="218" transform="rotate(22 495 498)" /><path d="M90,620 L200,660 M95,640 L205,675 M240,480 L300,520 M235,500 L295,535 M395,100 L470,160 M390,115 L460,170 M700,215 L760,240 M705,235 L765,255 M460,865 L470,800 M480,862 L488,800" fill="none" stroke-width="1.5"/><path d="M240,510 C230,600 240,720 290,800" fill="none"/><path d="M330,690 L375,720 L360,790 L320,800" fill="none"/></g>
<g transform="translate(725,560) scale(0.126952)"><path d="M50,360 C55,280 120,180 230,110 C300,75 400,65 460,110 L740,262 C800,290 870,330 920,380 C955,415 965,460 940,490 L880,502 C870,520 880,545 900,565 C945,600 960,650 950,700 C930,780 870,850 790,890 C710,925 620,935 540,915 L430,880 L150,768 C90,740 45,690 45,630 C45,600 60,580 85,570 L115,560 C110,520 112,470 120,440 L60,410 C50,395 48,380 50,360 Z" stroke-width="1.3"/><path d="M60,408 C90,395 140,350 215,278" fill="none"/><path d="M215,278 C170,330 135,390 120,440" fill="none"/><path d="M115,560 C90,570 60,590 55,625 C55,665 80,700 120,715 L150,735" fill="none"/><path d="M215,278 C300,200 390,150 470,125" fill="none"/><path d="M230,268 C310,195 395,150 470,135" fill="none"/><path d="M285,245 L530,385 L545,375 L300,236 Z" fill="#777"/><path d="M330,220 L580,355 M420,172 L670,305 M440,160 L690,292" fill="none"/><path d="M530,395 C470,440 420,510 395,600 C380,690 390,790 440,870" fill="none"/><path d="M515,400 C455,450 405,520 380,610 C368,700 378,790 425,865" fill="none"/><ellipse cx="380" cy="715" rx="12" ry="16" /><path d="M395,620 C400,520 450,450 530,395 L740,262 C800,290 870,330 920,380 C955,415 965,460 940,490 L880,502 C840,480 790,475 745,495 C700,520 665,565 645,620 C625,675 590,700 540,700 C480,700 420,670 395,620 Z" /><path d="M500,690 C505,600 560,510 650,455 C720,420 800,405 860,402 C900,405 925,420 935,432" fill="none"/><path d="M530,395 C600,370 700,345 800,340 C860,342 920,370 950,420" fill="none"/><path d="M620,690 C640,600 680,540 740,500" fill="none"/><path d="M660,700 C700,650 730,610 770,580 C800,560 830,555 860,560 L870,520" fill="none"/><path d="M400,800 C405,760 440,735 490,745 C560,760 640,790 710,760 C760,730 790,680 800,600 C815,570 860,565 900,575 C945,600 962,650 950,700 C930,780 870,850 790,890 C710,925 620,935 540,915 L470,895 C430,870 400,840 400,800 Z" /><path d="M500,860 C600,880 720,860 800,810 C860,770 890,720 895,650" fill="none"/><path d="M800,600 C840,590 880,600 905,625" fill="none"/><path d="M490,745 C520,770 530,810 510,860" fill="none"/><polyline points="690,600 1024,830" fill="none" /></g>
<g transform="translate(500,550) scale(0.175778)"><path d="M528,146 L745,278 C758,285 762,295 752,300 L520,175 Z" /><path d="M640,222 l-8,16" fill="none" stroke="#444"/><path d="M656,232 l-8,16" fill="none" stroke="#444"/><path d="M672,242 l-8,16" fill="none" stroke="#444"/><path d="M688,252 l-8,16" fill="none" stroke="#444"/><path d="M704,262 l-8,16" fill="none" stroke="#444"/><path d="M720,272 l-8,16" fill="none" stroke="#444"/><path d="M736,282 l-8,16" fill="none" stroke="#444"/><ellipse cx="512" cy="160" rx="24" ry="26" transform="rotate(-20 512 160)" /><ellipse cx="516" cy="160" rx="14" ry="18" transform="rotate(-20 516 160)" fill="none"/><path d="M285,105 C300,98 320,102 330,110 C335,150 335,200 330,245 C318,252 300,252 290,245 C288,200 296,150 285,105 Z" /><path d="M300,110 C305,150 305,200 302,245" fill="none"/><path d="M469,278 L490,273 L698,407 C712,418 722,430 724,444 L728,503 L724,578 L715,636 C712,650 706,660 698,661 L674,653 L474,523 L469,503 L490,436 L498,369 L482,303 Z" stroke-width="1.3"/><path d="M490,285 L700,420 C708,428 712,438 713,450 L716,505 L712,580 L705,632 L690,640 L480,510 L500,436 L509,369 Z" fill="none"/><path d="M499,303 L524,378 L532,478 L507,528" fill="none"/><path d="M540,352 L690,435 L698,580 L560,505 C565,450 558,400 540,352 Z" fill="none"/><path d="M512,300 L700,410 M520,320 L695,425" fill="none"/><path d="M480,505 L690,640 M488,490 L695,622" fill="none"/><path d="M650,560 L700,540 L712,590 L670,600 Z" fill="none"/><path d="M570,380 C585,420 588,470 580,510" fill="none"/><ellipse cx="540" cy="345" rx="13" ry="11" /><ellipse cx="540" cy="345" rx="6" ry="5" fill="#666"/><ellipse cx="655" cy="407" rx="13" ry="11" /><ellipse cx="655" cy="407" rx="6" ry="5" fill="#666"/><path d="M780,495 L825,465 L835,480 L790,512 Z" /><path d="M785,492 l6,12" fill="none" stroke="#444"/><path d="M795,485 l6,12" fill="none" stroke="#444"/><path d="M805,478 l6,12" fill="none" stroke="#444"/><path d="M815,471 l6,12" fill="none" stroke="#444"/><ellipse cx="835" cy="472" rx="18" ry="18" /><ellipse cx="835" cy="472" rx="9" ry="9" fill="none"/><path d="M328,640 L420,582 L485,615 L488,655 L400,697 L330,665 Z" /><path d="M328,640 L400,675 L485,620 M400,675 L400,697" fill="none"/><path d="M420,582 C440,590 455,598 470,606" fill="none"/><path d="M322,765 L372,728 L382,742 L330,778 Z" /><path d="M330,760 l6,12" fill="none" stroke="#444"/><path d="M341,752 l6,12" fill="none" stroke="#444"/><path d="M352,744 l6,12" fill="none" stroke="#444"/><path d="M363,736 l6,12" fill="none" stroke="#444"/><ellipse cx="386" cy="735" rx="18" ry="20" /><ellipse cx="386" cy="735" rx="9" ry="10" fill="none"/><path d="M140,690 L182,655 L257,670 L268,695 L300,760 L312,800 L300,815 L272,830 L270,880 L262,900 L212,905 L185,890 L183,840 L190,828 L124,811 L103,794 L103,740 L150,726 Z" stroke-width="1.2"/><path d="M103,740 L174,723 L194,736 M174,723 L170,812" fill="none"/><path d="M115,752 L160,742 L162,800 L118,790 Z" fill="none"/><path d="M125,760 L155,753 M125,775 L155,768" fill="none"/><path d="M194,736 L200,690 L250,690 L258,822 M212,700 L216,832 M236,700 L240,836" fill="none"/><path d="M150,700 L185,668 L250,680 L262,700" fill="none"/><ellipse cx="228" cy="722" rx="7" ry="6" /><ellipse cx="246" cy="760" rx="7" ry="6" /><ellipse cx="266" cy="792" rx="7" ry="6" /><ellipse cx="222" cy="790" rx="5" ry="5" fill="#444"/><path d="M268,760 L300,770 L305,805" fill="none"/><path d="M205,868 L262,856 L264,870 L206,882 Z M206,886 L262,874 L263,888 L207,898 Z" fill="#555"/><path d="M190,840 L270,828" fill="none"/></g>
<g transform="translate(310,570) scale(0.244141)"><path d="M510,178 C515,165 535,145 548,140 L598,135 C612,138 630,160 634,170 L578,208 C570,212 560,212 550,210 L515,192 C507,188 506,183 510,178 Z" /></g>
<g transform="translate(335,610) scale(0.195312)"><path d="M70,330 C80,260 110,220 150,190 C200,140 260,100 330,75 L350,60 C380,50 420,50 450,60 C480,75 500,110 510,160 L880,400 C920,420 950,460 965,500 C980,550 980,620 960,680 C940,740 900,800 850,840 C810,865 760,870 720,855 L640,830 L480,730 L420,720 L240,620 L200,610 L130,580 C100,560 85,530 85,500 C80,450 68,380 70,330 Z" /><path d="M337,71 C250,110 180,170 146,182 C110,220 85,260 80,296 C70,350 62,400 62,446" fill="none"/><path d="M397,110 C340,140 290,180 254,224" fill="none"/><path d="M420,100 C360,130 310,170 280,210" fill="none"/><path d="M254,224 L612,396" fill="none" stroke-width="1.4"/><path d="M362,170 L660,312" fill="none"/><path d="M300,165 L640,330" fill="none"/><path d="M482,164 L880,400" fill="none"/><path d="M86,326 L446,482" fill="none"/><path d="M95,300 L130,300 L600,530" fill="none"/><path d="M506,380 L446,470" fill="none"/><path d="M158,300 C165,270 200,250 250,255 L272,262 L260,365 L230,368 C200,350 165,330 158,300 Z" fill="none"/><path d="M380,60 C430,70 470,100 490,150 M350,62 C420,90 470,130 510,160" fill="none"/><path d="M85,398 L390,556 L380,640 L88,482 Z" fill="none"/><path d="M95,405 L382,560 L374,630 L96,474 Z" fill="none"/><text x="0" y="0" transform="translate(100,462) rotate(28) skewX(-10)" font-family="Liberation Sans" font-weight="bold" font-size="80" fill="#fff" stroke="#222" stroke-width="1.3" textLength="295" lengthAdjust="spacingAndGlyphs">makita</text><path d="M620,448 C650,392 720,356 800,350" fill="none" stroke-width="2"/><path d="M636,456 C666,400 736,364 816,358" fill="none" stroke-width="2"/><path d="M652,464 C682,408 752,372 832,366" fill="none" stroke-width="2"/><path d="M668,472 C698,416 768,380 848,374" fill="none" stroke-width="2"/><path d="M684,480 C714,424 784,388 864,382" fill="none" stroke-width="2"/><path d="M700,488 C730,432 800,396 880,390" fill="none" stroke-width="2"/><path d="M650,520 C700,460 780,420 860,425 C930,430 975,500 975,600 C975,720 900,830 800,860 C720,880 660,840 640,760 C625,690 620,600 650,520 Z" fill="none"/><path d="M690,540 C730,490 790,460 850,465 C910,470 945,530 945,610 C945,710 880,800 800,825 C740,840 690,810 675,750 C665,690 665,610 690,540 Z" fill="none"/><ellipse cx="792" cy="628" rx="62" ry="76" transform="rotate(25 792 628)" /><ellipse cx="795" cy="630" rx="52" ry="66" transform="rotate(25 795 630)" fill="none"/><path d="M735,525 L880,470 L905,530 L900,560 M760,560 L870,510 M700,610 L745,570 M880,690 L930,650 L935,560 M860,720 L900,690 M710,760 L800,722 L850,790 M730,790 L800,750 L835,800" fill="none" stroke-width="1.4"/><path d="M705,720 L740,700 M690,600 L730,590 M860,600 L945,610" fill="none"/><ellipse cx="905" cy="440" rx="10" ry="10" /><ellipse cx="675" cy="580" rx="9" ry="9" /><ellipse cx="720" cy="820" rx="9" ry="9" /><path d="M420,480 C430,470 450,470 470,480 L640,560 L650,720 L620,760 L470,700 C440,680 420,640 418,600 Z" fill="none"/><path d="M470,520 L630,600 L620,740 L490,690 C475,640 470,580 470,520 Z" fill="none"/><path d="M530,480 L650,540 L660,570 L540,510 Z" fill="#ddd"/><path d="M495,560 C530,600 540,650 520,700" fill="none"/><path d="M545,520 L560,530 M580,540 L595,550 M610,555 L625,562" fill="none" stroke-width="2"/><path d="M100,540 C110,580 140,600 190,610 L230,610 L215,590 L150,570 Z" fill="none"/><path d="M480,730 L640,790 L700,830" fill="none"/><polyline points="430,795 620,700" fill="none" /></g>
<g transform="translate(270,720) scale(0.175778)"><path d="M115,270 C150,280 200,300 230,320 L240,285 C270,290 330,320 365,340 C380,350 382,370 370,385 L355,400 C350,450 345,500 345,540 C345,580 350,610 358,640 L300,620 L130,520 C105,500 90,470 88,430 C85,380 90,320 115,270 Z" /><path d="M150,292 C140,360 138,450 150,535 M185,305 C175,380 175,460 190,550 M205,310 L210,370 L185,365" fill="none"/><path d="M232,318 L350,385 M240,287 C235,300 232,310 232,318" fill="none"/><ellipse cx="362" cy="358" rx="16" ry="20" /><path d="M335,420 C325,480 325,560 340,630 M345,520 L365,525 L362,545 L343,540" fill="none"/><ellipse cx="295" cy="568" rx="18" ry="14" transform="rotate(20 295 568)" /><path d="M128,662 L172,636 C182,632 186,645 178,652 L136,682 Z" /><path d="M140,655 l6,14" fill="none" stroke="#444"/><path d="M149,649 l6,14" fill="none" stroke="#444"/><path d="M158,643 l6,14" fill="none" stroke="#444"/><path d="M167,637 l6,14" fill="none" stroke="#444"/><ellipse cx="115" cy="676" rx="22" ry="23" /><ellipse cx="115" cy="676" rx="11" ry="12" fill="none"/><path d="M555,615 L680,545 L795,600 L660,680 Z" /><path d="M555,880 L680,810 L795,870 L660,945 Z" /><polyline points="658,560 658,610" fill="none" /><polyline points="658,820 658,880" fill="none" /><path d="M455,350 L560,300 L615,325 L615,360 L515,410 L455,380 Z" /><path d="M455,350 L515,380 L615,330 M515,380 L515,410 M470,360 L470,388 M490,370 L490,398" fill="none"/><path d="M600,395 L648,362 C656,358 662,368 655,374 L608,410 Z" /><path d="M610,390 l5,12" fill="none" stroke="#444"/><path d="M620,383 l5,12" fill="none" stroke="#444"/><path d="M630,376 l5,12" fill="none" stroke="#444"/><path d="M640,369 l5,12" fill="none" stroke="#444"/><ellipse cx="594" cy="405" rx="16" ry="16" /><ellipse cx="594" cy="405" rx="8" ry="8" fill="none"/><path d="M655,215 L720,190 C715,160 735,145 760,150 L820,180 L825,330 L800,360 L770,385 L740,375 L735,340 L690,330 L660,310 L655,260 Z" /><path d="M735,190 L740,370 M740,190 L820,185 M655,260 L735,280 M660,300 L735,310 M760,200 L805,215 L805,230 L760,215 Z M770,240 L800,245 M770,270 L800,275 M770,300 L800,305" fill="none"/><ellipse cx="725" cy="180" rx="22" ry="28" fill="#fff"/><ellipse cx="735" cy="185" rx="14" ry="18" fill="#333"/><path d="M680,280 L710,270 L720,300 L690,310 Z" fill="#999"/></g>
<g transform="translate(520,720) scale(0.332027)"><path d="M88,100 L140,68 L175,85 L175,110 L125,135 L88,118 Z" /><path d="M88,100 L125,118 L175,88 M125,118 L125,135" fill="none"/><path d="M402,80 C405,72 430,68 460,70 C490,72 505,82 512,100 L520,115 C560,150 640,210 700,255 C740,285 770,310 785,345 C795,375 790,400 780,420 L772,450 L780,480 C785,500 780,515 770,520 L745,520 L700,505 C640,480 560,440 490,395 C450,370 420,345 405,325 L410,310 L440,290 C450,260 455,240 462,215 L470,175 L450,145 L420,115 L405,100 Z" stroke-width="1.3"/><path d="M488,265 C500,245 540,245 580,262 L690,318 C730,340 750,370 745,405 L740,440 C735,465 715,475 690,465 L520,380 C490,365 478,335 482,300 Z" /><path d="M470,175 C520,200 600,240 690,290 C730,312 760,340 770,380" fill="none"/><path d="M480,160 C530,185 610,225 700,275 C740,298 770,330 780,370" fill="none"/><path d="M420,318 C480,365 580,420 700,470 L760,490" fill="none"/><path d="M432,312 C492,360 590,415 705,462" fill="none"/><path d="M470,350 l-6,22" fill="none"/><path d="M512,372 l-6,22" fill="none"/><path d="M554,394 l-6,22" fill="none"/><path d="M596,416 l-6,22" fill="none"/><path d="M638,438 l-6,22" fill="none"/><path d="M680,460 l-6,22" fill="none"/><path d="M722,482 l-6,22" fill="none"/><path d="M700,360 C720,380 735,420 730,460 M740,330 C760,360 770,400 760,440 L745,470" fill="none"/><path d="M462,215 C470,230 480,245 485,250 M455,240 C470,250 478,270 480,295" fill="none"/><path d="M410,90 L470,95 L500,110 M420,100 L470,110 L510,130" fill="none"/><path d="M430,82 L460,80 L470,92 L440,95 Z M470,85 L490,88 L495,100 L475,98 Z" fill="#555"/><path d="M420,115 L470,170 L505,190 M470,175 L490,240 M445,150 C460,200 455,250 440,285 M430,130 L480,160" fill="none"/><path d="M495,195 L515,205 L520,255 L500,250 Z" fill="#777"/><path d="M520,130 L560,160 L600,175 M520,195 L580,222 L640,255 L700,292" fill="none"/><path d="M600,245 L660,272 L665,290 L605,265 Z" fill="#888"/><ellipse cx="710" cy="482" rx="15" ry="13" /><ellipse cx="735" cy="412" rx="12" ry="11" /><ellipse cx="668" cy="268" rx="9" ry="8" /><ellipse cx="598" cy="250" rx="8" ry="7" /><ellipse cx="470" cy="345" rx="10" ry="9" /><path d="M582,128 L632,150 L628,168 L578,138 Z" /><path d="M590,127 l-3,12" fill="none" stroke="#444"/><path d="M599,132 l-3,12" fill="none" stroke="#444"/><path d="M608,137 l-3,12" fill="none" stroke="#444"/><path d="M617,142 l-3,12" fill="none" stroke="#444"/><path d="M626,147 l-3,12" fill="none" stroke="#444"/><ellipse cx="643" cy="160" rx="11" ry="14" transform="rotate(-20 643 160)" /><ellipse cx="643" cy="160" rx="5" ry="7" transform="rotate(-20 643 160)" fill="none"/><path d="M830,350 L862,332 L868,345 L836,362 Z" /><path d="M838,347 l3,12" fill="none" stroke="#444"/><path d="M846,342 l3,12" fill="none" stroke="#444"/><path d="M854,337 l3,12" fill="none" stroke="#444"/><ellipse cx="870" cy="338" rx="10" ry="12" /><ellipse cx="870" cy="338" rx="5" ry="6" fill="none"/></g>
<g transform="translate(540,840) scale(0.312500)"><path d="M15,55 L25,48 L75,75 L75,100 L65,108 L15,82 Z" /><path d="M15,55 L65,82 L75,75 M65,82 L65,108" fill="none"/><path d="M48,35 L58,28 L108,55 L108,80 L98,88 L48,62 Z" /><path d="M48,35 L98,62 L108,55 M98,62 L98,88" fill="none"/><path d="M530,345 L780,565 L745,600 L480,410 Z" /><path d="M462,345 L520,330 L535,345 L530,360 L478,418 L463,412 Z" /><path d="M470,350 L520,337 M475,410 L468,355" fill="none"/><ellipse cx="762" cy="582" rx="20" ry="26" transform="rotate(40 762 582)" /><ellipse cx="762" cy="582" rx="12" ry="17" transform="rotate(40 762 582)" /><path d="M778,595 C795,605 808,612 818,620 M770,605 C785,618 798,628 812,634" fill="none"/><path d="M805.4,634.5 L805.5,633.0 L805.7,631.4 L806.0,629.8 L806.6,628.1 L807.3,626.4 L808.1,624.7 L809.0,623.0 L810.0,621.4 L811.1,619.9 L812.3,618.5 L813.5,617.3 L814.8,616.2 L816.1,615.3 L817.3,614.6 L818.5,614.2 L819.6,613.9 L820.7,613.9 L821.6,614.1 L822.5,614.5 L975.5,720.5 L976.2,721.1 L976.8,722.0 L977.2,723.0 L977.5,724.2 L977.6,725.5 L977.5,727.0 L977.3,728.6 L977.0,730.2 L976.4,731.9 L975.7,733.6 L974.9,735.3 L974.0,737.0 L973.0,738.6 L971.9,740.1 L970.7,741.5 L969.5,742.7 L968.2,743.8 L966.9,744.7 L965.7,745.4 L964.5,745.8 L963.4,746.1 L962.3,746.1 L961.4,745.9 L960.5,745.5 L807.5,639.5 L806.8,638.9 L806.2,638.0 L805.8,637.0 L805.5,635.8 Z" /><path d="M975.5,720.5 L976.2,721.1 L976.8,722.0 L977.2,723.0 L977.5,724.2 L977.6,725.5 L977.5,727.0 L977.3,728.6 L976.9,730.2 L976.4,731.9 L975.7,733.6 L974.9,735.3 L974.0,737.0 L973.0,738.6 L971.9,740.1 L970.7,741.5 L969.4,742.7 L968.2,743.8 L966.9,744.7 L965.7,745.4 L964.5,745.8 L963.4,746.1 L962.3,746.1 L961.3,745.9 L960.5,745.5 L959.8,744.9 L959.2,744.0 L958.8,743.0 L958.5,741.8 L958.4,740.5 L958.5,739.0 L958.7,737.4 L959.1,735.8 L959.6,734.1 L960.3,732.4 L961.1,730.7 L962.0,729.0 L963.0,727.4 L964.1,725.9 L965.3,724.5 L966.6,723.3 L967.8,722.2 L969.1,721.3 L970.3,720.6 L971.5,720.2 L972.6,719.9 L973.7,719.9 L974.7,720.1 L975.5,720.5 Z" fill="#fff"/></g>
<g transform="translate(390,840) scale(0.205086)"><path d="M270,130 L380,185 L830,530 C850,545 858,565 855,580 L850,650 L840,700 L855,790 L855,840 L810,855 L740,830 L400,650 C360,620 330,595 300,580 C260,565 230,555 200,540 C160,520 130,490 118,440 C108,390 115,320 140,270 C165,220 200,180 220,165 C240,150 255,138 270,130 Z" stroke-width="1.3"/><path d="M380,185 L820,520 M360,200 L800,540" fill="none"/><path d="M150,325 C200,311 260,319 300,335" fill="none" stroke-width="1.9"/><path d="M150,349 C200,335 260,343 300,359" fill="none" stroke-width="1.9"/><path d="M150,373 C200,359 260,367 300,383" fill="none" stroke-width="1.9"/><path d="M150,397 C200,383 260,391 300,407" fill="none" stroke-width="1.9"/><path d="M150,421 C200,407 260,415 300,431" fill="none" stroke-width="1.9"/><path d="M150,445 C200,431 260,439 300,455" fill="none" stroke-width="1.9"/><path d="M150,469 C200,455 260,463 300,479" fill="none" stroke-width="1.9"/><path d="M150,493 C200,479 260,487 300,503" fill="none" stroke-width="1.9"/><path d="M255,140 L300,210" fill="none" stroke-width="2"/><path d="M280,148 L325,218" fill="none" stroke-width="2"/><path d="M305,156 L350,226" fill="none" stroke-width="2"/><path d="M330,164 L375,234" fill="none" stroke-width="2"/><path d="M355,172 L400,242" fill="none" stroke-width="2"/><path d="M200,230 L240,250 L220,300 L190,290 Z M220,170 C260,210 300,260 330,330 C350,380 370,420 380,440" fill="none"/><path d="M280,330 C320,310 360,330 380,360 L400,400" fill="none"/><path d="M380,440 C390,420 410,415 430,425 L740,650 C760,670 760,700 750,730 L740,760 C720,800 700,800 680,790 L420,640 C390,620 375,580 375,540 Z" /><path d="M395,460 L720,665 C735,680 738,700 730,725 L720,750 C710,770 695,775 680,768 L430,620 C405,605 395,580 395,550 Z" fill="none"/><path d="M420,350 L590,440 L660,520 L670,550 L600,470 L430,380 Z" fill="#eee"/><path d="M780,560 C800,600 810,640 800,680 M800,600 L830,620 C840,640 838,660 825,670 M810,780 L840,770 L845,800 L815,810 Z" fill="none"/><path d="M300,580 L740,830 M140,490 C180,520 230,540 300,560" fill="none"/><ellipse cx="280" cy="545" rx="25" ry="20" /><ellipse cx="232" cy="262" rx="12" ry="15" /></g>
<g transform="translate(100,340) scale(0.195312)"><path d="M385.0,100.0 L385.5,97.1 L386.9,94.3 L389.2,91.6 L392.4,89.0 L396.4,86.6 L401.1,84.4 L406.5,82.5 L412.5,81.0 L418.9,79.7 L425.8,78.8 L432.8,78.2 L440.0,78.0 L447.2,78.2 L454.2,78.8 L461.1,79.7 L467.5,81.0 L473.5,82.5 L478.9,84.4 L483.6,86.6 L487.6,89.0 L490.8,91.6 L493.1,94.3 L494.5,97.1 L495.0,100.0 L495.0,140.0 L494.5,142.9 L493.1,145.7 L490.8,148.4 L487.6,151.0 L483.6,153.4 L478.9,155.6 L473.5,157.4 L467.5,159.1 L461.1,160.3 L454.2,161.2 L447.2,161.8 L440.0,162.0 L432.8,161.8 L425.8,161.2 L418.9,160.3 L412.5,159.1 L406.5,157.4 L401.1,155.6 L396.4,153.4 L392.4,151.0 L389.2,148.4 L386.9,145.7 L385.5,142.9 L385.0,140.0 Z" /><path d="M495.0,100.0 L494.5,97.1 L493.1,94.3 L490.8,91.6 L487.6,89.0 L483.6,86.6 L478.9,84.4 L473.5,82.5 L467.5,80.9 L461.0,79.7 L454.2,78.7 L447.2,78.2 L440.0,78.0 L432.8,78.2 L425.8,78.7 L419.0,79.7 L412.5,80.9 L406.5,82.5 L401.1,84.4 L396.4,86.6 L392.4,89.0 L389.2,91.6 L386.9,94.3 L385.5,97.1 L385.0,100.0 L385.5,102.9 L386.9,105.7 L389.2,108.4 L392.4,111.0 L396.4,113.4 L401.1,115.6 L406.5,117.5 L412.5,119.1 L419.0,120.3 L425.8,121.3 L432.8,121.8 L440.0,122.0 L447.2,121.8 L454.2,121.3 L461.0,120.3 L467.5,119.1 L473.5,117.5 L478.9,115.6 L483.6,113.4 L487.6,111.0 L490.8,108.4 L493.1,105.7 L494.5,102.9 L495.0,100.0 Z" fill="#fff"/><ellipse cx="440" cy="100" rx="45" ry="17" fill="#1a1a1a"/><ellipse cx="440" cy="100" rx="24" ry="9" /><ellipse cx="440" cy="100" rx="12" ry="5" fill="none"/><polyline points="437,50 437,96" fill="none" /><ellipse cx="440" cy="212" rx="50" ry="22" /><ellipse cx="440" cy="205" rx="50" ry="22" /><ellipse cx="440" cy="205" rx="38" ry="15" /><path d="M398,190 L410,178 L425,185 L412,196 Z" /><path d="M360,270 L400,262 C430,248 470,246 500,250 L520,262 L525,300 L510,322 C480,345 430,350 405,336 L380,302 L360,292 Z" /><ellipse cx="438" cy="293" rx="38" ry="15" /><path d="M360,292 L380,300 M500,270 L520,278 M495,300 L520,295" fill="none"/><path d="M357.0,402.0 L357.6,397.8 L359.6,393.7 L362.7,389.8 L367.1,386.0 L372.5,382.5 L379.0,379.4 L386.3,376.6 L394.5,374.3 L403.3,372.4 L412.6,371.1 L422.2,370.3 L432.0,370.0 L441.8,370.3 L451.4,371.1 L460.7,372.4 L469.5,374.3 L477.7,376.6 L485.0,379.4 L491.5,382.5 L496.9,386.0 L501.3,389.8 L504.4,393.7 L506.4,397.8 L507.0,402.0 L507.0,465.0 L506.4,469.2 L504.4,473.3 L501.3,477.2 L496.9,481.0 L491.5,484.5 L485.0,487.6 L477.7,490.4 L469.5,492.7 L460.7,494.6 L451.4,495.9 L441.8,496.7 L432.0,497.0 L422.2,496.7 L412.6,495.9 L403.3,494.6 L394.5,492.7 L386.3,490.4 L379.0,487.6 L372.5,484.5 L367.1,481.0 L362.7,477.2 L359.6,473.3 L357.6,469.2 L357.0,465.0 Z" /><path d="M507.0,402.0 L506.4,397.8 L504.4,393.7 L501.3,389.8 L497.0,386.0 L491.5,382.5 L485.0,379.4 L477.7,376.6 L469.5,374.3 L460.7,372.4 L451.4,371.1 L441.8,370.3 L432.0,370.0 L422.2,370.3 L412.6,371.1 L403.3,372.4 L394.5,374.3 L386.3,376.6 L379.0,379.4 L372.5,382.5 L367.0,386.0 L362.7,389.8 L359.6,393.7 L357.6,397.8 L357.0,402.0 L357.6,406.2 L359.6,410.3 L362.7,414.2 L367.0,418.0 L372.5,421.5 L379.0,424.6 L386.3,427.4 L394.5,429.7 L403.3,431.6 L412.6,432.9 L422.2,433.7 L432.0,434.0 L441.8,433.7 L451.4,432.9 L460.7,431.6 L469.5,429.7 L477.7,427.4 L485.0,424.6 L491.5,421.5 L497.0,418.0 L501.3,414.2 L504.4,410.3 L506.4,406.2 L507.0,402.0 Z" fill="#fff"/><ellipse cx="432" cy="404" rx="64" ry="24" /><path d="M360,445 C400,470 470,470 505,445" fill="none"/><path d="M365.0,548.0 L365.6,544.1 L367.3,540.2 L370.2,536.5 L374.1,533.0 L379.1,529.7 L384.9,526.8 L391.6,524.2 L399.0,522.0 L407.0,520.3 L415.4,519.0 L424.1,518.3 L433.0,518.0 L441.9,518.3 L450.6,519.0 L459.0,520.3 L467.0,522.0 L474.4,524.2 L481.1,526.8 L486.9,529.7 L491.9,533.0 L495.8,536.5 L498.7,540.2 L500.4,544.1 L501.0,548.0 L501.0,605.0 L500.4,608.9 L498.7,612.8 L495.8,616.5 L491.9,620.0 L486.9,623.3 L481.1,626.2 L474.4,628.8 L467.0,631.0 L459.0,632.7 L450.6,634.0 L441.9,634.7 L433.0,635.0 L424.1,634.7 L415.4,634.0 L407.0,632.7 L399.0,631.0 L391.6,628.8 L384.9,626.2 L379.1,623.3 L374.1,620.0 L370.2,616.5 L367.3,612.8 L365.6,608.9 L365.0,605.0 Z" /><path d="M501.0,548.0 L500.4,544.1 L498.7,540.2 L495.8,536.5 L491.9,533.0 L486.9,529.7 L481.1,526.8 L474.4,524.2 L467.0,522.0 L459.0,520.3 L450.6,519.0 L441.9,518.3 L433.0,518.0 L424.1,518.3 L415.4,519.0 L407.0,520.3 L399.0,522.0 L391.6,524.2 L384.9,526.8 L379.1,529.7 L374.1,533.0 L370.2,536.5 L367.3,540.2 L365.6,544.1 L365.0,548.0 L365.6,551.9 L367.3,555.8 L370.2,559.5 L374.1,563.0 L379.1,566.3 L384.9,569.2 L391.6,571.8 L399.0,574.0 L407.0,575.7 L415.4,577.0 L424.1,577.7 L433.0,578.0 L441.9,577.7 L450.6,577.0 L459.0,575.7 L467.0,574.0 L474.4,571.8 L481.1,569.2 L486.9,566.3 L491.9,563.0 L495.8,559.5 L498.7,555.8 L500.4,551.9 L501.0,548.0 Z" fill="#fff"/><ellipse cx="433" cy="550" rx="58" ry="22" /><path d="M375,690 C380,670 410,655 450,655 C470,655 490,660 500,665 L515,670 L520,730 L505,740 C490,760 470,770 445,770 C405,770 380,755 375,735 Z" /><ellipse cx="440" cy="690" rx="35" ry="17" /><path d="M500,665 L505,740 M470,710 L470,765" fill="none"/><ellipse cx="437" cy="812" rx="52" ry="27" /><ellipse cx="694" cy="247" rx="21.5" ry="11" /><ellipse cx="694" cy="247" rx="16" ry="6.5" fill="none"/><path d="M628,412 C630,402 672,400 674,410 L672,425 C668,437 632,437 628,425 Z" /><ellipse cx="651" cy="410" rx="23" ry="9" transform="rotate(-8 651 410)" fill="none"/><path d="M641,408 L664,325 L690,329 L670,412 Z" /><path d="M667,326 L672,293 C674,285 690,285 692,293 L689,330 Z" /><ellipse cx="677" cy="326" rx="13" ry="5" transform="rotate(-8 677 326)" /><ellipse cx="682" cy="291" rx="10" ry="4" transform="rotate(-8 682 291)" /></g>
<g transform="translate(100,500) scale(0.195312)"><ellipse cx="439" cy="170" rx="198" ry="123" /><ellipse cx="439" cy="162" rx="198" ry="123" /><path d="M591.0,155.0 L635.0,162.0" stroke="#777"/><path d="M590.2,163.6 L634.0,174.2" stroke="#777"/><path d="M587.9,172.1 L631.0,186.4" stroke="#777"/><path d="M584.0,180.4 L626.0,198.2" stroke="#777"/><path d="M578.7,188.5 L619.1,209.7" stroke="#777"/><path d="M571.9,196.3 L610.4,220.7" stroke="#777"/><path d="M563.8,203.6 L599.9,231.1" stroke="#777"/><path d="M554.3,210.4 L587.7,240.8" stroke="#777"/><path d="M543.7,216.6 L574.0,249.7" stroke="#777"/><path d="M532.0,222.2 L559.0,257.7" stroke="#777"/><path d="M519.4,227.1 L542.7,264.7" stroke="#777"/><path d="M505.9,231.3 L525.3,270.6" stroke="#777"/><path d="M491.8,234.7 L507.1,275.5" stroke="#777"/><path d="M477.1,237.3 L488.1,279.1" stroke="#777"/><path d="M462.0,239.0 L468.7,281.6" stroke="#777"/><path d="M446.7,239.9 L448.9,282.8" stroke="#777"/><path d="M431.3,239.9 L429.1,282.8" stroke="#777"/><path d="M416.0,239.0 L409.3,281.6" stroke="#777"/><path d="M400.9,237.3 L389.9,279.1" stroke="#777"/><path d="M386.2,234.7 L370.9,275.5" stroke="#777"/><path d="M372.1,231.3 L352.7,270.6" stroke="#777"/><path d="M358.6,227.1 L335.3,264.7" stroke="#777"/><path d="M346.0,222.2 L319.0,257.7" stroke="#777"/><path d="M334.3,216.6 L304.0,249.7" stroke="#777"/><path d="M323.7,210.4 L290.3,240.8" stroke="#777"/><path d="M314.2,203.6 L278.1,231.1" stroke="#777"/><path d="M306.1,196.3 L267.6,220.7" stroke="#777"/><path d="M299.3,188.5 L258.9,209.7" stroke="#777"/><path d="M294.0,180.4 L252.0,198.2" stroke="#777"/><path d="M290.1,172.1 L247.0,186.4" stroke="#777"/><path d="M287.8,163.6 L244.0,174.2" stroke="#777"/><path d="M287.0,155.0 L243.0,162.0" stroke="#777"/><path d="M287.8,146.4 L244.0,149.8" stroke="#777"/><path d="M290.1,137.9 L247.0,137.6" stroke="#777"/><path d="M294.0,129.6 L252.0,125.8" stroke="#777"/><path d="M299.3,121.5 L258.9,114.3" stroke="#777"/><path d="M306.1,113.7 L267.6,103.3" stroke="#777"/><path d="M314.2,106.4 L278.1,92.9" stroke="#777"/><path d="M323.7,99.6 L290.3,83.2" stroke="#777"/><path d="M334.3,93.4 L304.0,74.3" stroke="#777"/><path d="M346.0,87.8 L319.0,66.3" stroke="#777"/><path d="M358.6,82.9 L335.3,59.3" stroke="#777"/><path d="M372.1,78.7 L352.7,53.4" stroke="#777"/><path d="M386.2,75.3 L370.9,48.5" stroke="#777"/><path d="M400.9,72.7 L389.9,44.9" stroke="#777"/><path d="M416.0,71.0 L409.3,42.4" stroke="#777"/><path d="M431.3,70.1 L429.1,41.2" stroke="#777"/><path d="M446.7,70.1 L448.9,41.2" stroke="#777"/><path d="M462.0,71.0 L468.7,42.4" stroke="#777"/><path d="M477.1,72.7 L488.1,44.9" stroke="#777"/><path d="M491.8,75.3 L507.1,48.5" stroke="#777"/><path d="M505.9,78.7 L525.3,53.4" stroke="#777"/><path d="M519.4,82.9 L542.7,59.3" stroke="#777"/><path d="M532.0,87.8 L559.0,66.3" stroke="#777"/><path d="M543.7,93.4 L574.0,74.3" stroke="#777"/><path d="M554.3,99.6 L587.7,83.2" stroke="#777"/><path d="M563.8,106.4 L599.9,92.9" stroke="#777"/><path d="M571.9,113.7 L610.4,103.3" stroke="#777"/><path d="M578.7,121.5 L619.1,114.3" stroke="#777"/><path d="M584.0,129.6 L626.0,125.8" stroke="#777"/><path d="M587.9,137.9 L631.0,137.6" stroke="#777"/><path d="M590.2,146.4 L634.0,149.8" stroke="#777"/><ellipse cx="439" cy="155" rx="152" ry="85" fill="#fff"/><ellipse cx="439" cy="155" rx="140" ry="76" fill="none" stroke-width="1.3"/><path d="M300,140 C320,105 380,85 440,85 C520,85 560,100 575,130 L560,175 L520,200 L470,225 L420,222 L360,200 L320,180 Z" fill="#fff"/><path d="M340,125 C360,105 400,95 440,95 C500,95 530,110 540,130" fill="none"/><ellipse cx="442" cy="157" rx="57" ry="28" fill="#222"/><ellipse cx="440" cy="160" rx="40" ry="18" /><ellipse cx="320" cy="130" rx="20" ry="10" transform="rotate(-20 320 130)" /><ellipse cx="470" cy="215" rx="22" ry="12" /><path d="M380,180 L372,215 M530,120 L545,160 L525,175 M555,140 L600,150" fill="none"/><path d="M290,300 L310,300 L308,358 L292,358 Z" /><path d="M290,312 l20,-3" fill="none" stroke="#444"/><path d="M290,321 l20,-3" fill="none" stroke="#444"/><path d="M290,330 l20,-3" fill="none" stroke="#444"/><path d="M290,339 l20,-3" fill="none" stroke="#444"/><path d="M290,348 l20,-3" fill="none" stroke="#444"/><path d="M280.0,290.0 L280.2,289.0 L280.7,287.9 L281.5,286.9 L282.7,286.0 L284.1,285.1 L285.9,284.3 L287.8,283.6 L290.0,283.1 L292.4,282.6 L294.8,282.3 L297.4,282.1 L300.0,282.0 L302.6,282.1 L305.2,282.3 L307.6,282.6 L310.0,283.1 L312.2,283.6 L314.1,284.3 L315.9,285.1 L317.3,286.0 L318.5,286.9 L319.3,287.9 L319.8,289.0 L320.0,290.0 L320.0,305.0 L319.8,306.0 L319.3,307.1 L318.5,308.1 L317.3,309.0 L315.9,309.9 L314.1,310.7 L312.2,311.4 L310.0,311.9 L307.6,312.4 L305.2,312.7 L302.6,312.9 L300.0,313.0 L297.4,312.9 L294.8,312.7 L292.4,312.4 L290.0,311.9 L287.8,311.4 L285.9,310.7 L284.1,309.9 L282.7,309.0 L281.5,308.1 L280.7,307.1 L280.2,306.0 L280.0,305.0 Z" /><path d="M320.0,290.0 L319.8,289.0 L319.3,287.9 L318.5,286.9 L317.3,286.0 L315.9,285.1 L314.1,284.3 L312.2,283.7 L310.0,283.1 L307.7,282.6 L305.2,282.3 L302.6,282.1 L300.0,282.0 L297.4,282.1 L294.8,282.3 L292.3,282.6 L290.0,283.1 L287.8,283.7 L285.9,284.3 L284.1,285.1 L282.7,286.0 L281.5,286.9 L280.7,287.9 L280.2,289.0 L280.0,290.0 L280.2,291.0 L280.7,292.1 L281.5,293.1 L282.7,294.0 L284.1,294.9 L285.9,295.7 L287.8,296.3 L290.0,296.9 L292.3,297.4 L294.8,297.7 L297.4,297.9 L300.0,298.0 L302.6,297.9 L305.2,297.7 L307.7,297.4 L310.0,296.9 L312.2,296.3 L314.1,295.7 L315.9,294.9 L317.3,294.0 L318.5,293.1 L319.3,292.1 L319.8,291.0 L320.0,290.0 Z" fill="#fff"/><path d="M300,440 L275,425 C266,432 266,458 275,465 L310,470 Z" /><path d="M292,430 C292,382 357,345 437,345 L442,340 C450,333 500,330 510,338 L515,352 C555,366 582,396 582,430 C582,455 570,478 550,490 L575,492 C582,500 578,510 570,512 L530,512 C505,515 470,515 437,515 C357,515 292,478 292,430 Z" /><ellipse cx="437" cy="426" rx="117" ry="64" /><ellipse cx="437" cy="427" rx="104" ry="56" fill="none"/><ellipse cx="436" cy="427" rx="89" ry="47" /><ellipse cx="292" cy="452" rx="9" ry="6" /><ellipse cx="550" cy="496" rx="9" ry="6" /><ellipse cx="480" cy="342" rx="9" ry="5" /><ellipse cx="437" cy="575" rx="52" ry="30" /><ellipse cx="437" cy="575" rx="40" ry="21" /><path d="M332.0,692.0 L332.9,685.5 L335.6,679.1 L340.0,672.9 L346.1,667.0 L353.7,661.6 L362.8,656.6 L373.1,652.3 L384.5,648.7 L396.8,645.8 L409.8,643.7 L423.3,642.4 L437.0,642.0 L450.7,642.4 L464.2,643.7 L477.2,645.8 L489.5,648.7 L500.9,652.3 L511.2,656.6 L520.3,661.6 L527.9,667.0 L534.0,672.9 L538.4,679.1 L541.1,685.5 L542.0,692.0 L542.0,740.0 L541.1,746.5 L538.4,752.9 L534.0,759.1 L527.9,765.0 L520.3,770.4 L511.2,775.4 L500.9,779.7 L489.5,783.3 L477.2,786.2 L464.2,788.3 L450.7,789.6 L437.0,790.0 L423.3,789.6 L409.8,788.3 L396.8,786.2 L384.5,783.3 L373.1,779.7 L362.8,775.4 L353.7,770.4 L346.1,765.0 L340.0,759.1 L335.6,752.9 L332.9,746.5 L332.0,740.0 Z" /><path d="M542.0,692.0 L541.1,685.5 L538.4,679.1 L534.0,672.9 L527.9,667.0 L520.3,661.6 L511.2,656.6 L500.9,652.3 L489.5,648.7 L477.2,645.8 L464.2,643.7 L450.7,642.4 L437.0,642.0 L423.3,642.4 L409.8,643.7 L396.8,645.8 L384.5,648.7 L373.1,652.3 L362.8,656.6 L353.7,661.6 L346.1,667.0 L340.0,672.9 L335.6,679.1 L332.9,685.5 L332.0,692.0 L332.9,698.5 L335.6,704.9 L340.0,711.1 L346.1,717.0 L353.7,722.4 L362.8,727.4 L373.1,731.7 L384.5,735.3 L396.8,738.2 L409.8,740.3 L423.3,741.6 L437.0,742.0 L450.7,741.6 L464.2,740.3 L477.2,738.2 L489.5,735.3 L500.9,731.7 L511.2,727.4 L520.3,722.4 L527.9,717.0 L534.0,711.1 L538.4,704.9 L541.1,698.5 L542.0,692.0 Z" fill="#fff"/><ellipse cx="437" cy="692" rx="75" ry="35" /><ellipse cx="437" cy="700" rx="58" ry="26" /><ellipse cx="437" cy="915" rx="197" ry="110" fill="none" stroke-width="2.5"/></g>
<g transform="translate(100,650) scale(0.195312)"><path d="M292,555 L598,555 L598,598 C590,615 540,628 440,628 C360,628 305,615 292,598 Z" /><path d="M300,580 C340,605 400,612 440,612 C500,612 545,603 575,590" fill="none"/><path d="M520,585 L525,615 L560,612 L565,585 M575,560 L598,575" fill="none"/><path d="M180,420 C178,432 180,445 188,452 L420,574 C428,578 436,578 444,574 L690,445 C698,440 700,428 697,418 L450,280 C440,275 430,275 420,280 Z" /><path d="M182,428 L420,552 L697,420" fill="none"/><path d="M195,445 L420,562 M195,445 L200,470 L215,475" fill="none"/><ellipse cx="439" cy="398" rx="201" ry="118" /><ellipse cx="440" cy="394" rx="188" ry="108" fill="none"/><ellipse cx="440" cy="390" rx="176" ry="98" fill="none" stroke="#666"/><path d="M330,370 C350,345 420,335 470,338 L540,352 L560,400 L548,455 L500,485 L420,488 L350,470 L325,420 Z" fill="none"/><ellipse cx="439" cy="427" rx="111" ry="72" /><ellipse cx="440" cy="436" rx="90" ry="57" fill="none"/><ellipse cx="440" cy="446" rx="70" ry="42" fill="none"/><ellipse cx="440" cy="458" rx="52" ry="27" /><ellipse cx="440" cy="462" rx="38" ry="17" fill="none"/><ellipse cx="472" cy="343" rx="9" ry="6" fill="#222"/><ellipse cx="298" cy="445" rx="9" ry="6" fill="#222"/><ellipse cx="538" cy="481" rx="9" ry="6" fill="#222"/><ellipse cx="214" cy="430" rx="13" ry="8" /><ellipse cx="664" cy="415" rx="13" ry="8" /><ellipse cx="424" cy="541" rx="12" ry="7" /><path d="M195,750 C195,742 228,742 228,750 L230,825 L198,825 Z" /><path d="M196,762 l33,-4" fill="none" stroke="#444"/><path d="M196,770 l33,-4" fill="none" stroke="#444"/><path d="M196,778 l33,-4" fill="none" stroke="#444"/><path d="M196,786 l33,-4" fill="none" stroke="#444"/><path d="M196,794 l33,-4" fill="none" stroke="#444"/><path d="M196,802 l33,-4" fill="none" stroke="#444"/><path d="M196,810 l33,-4" fill="none" stroke="#444"/><path d="M196,818 l33,-4" fill="none" stroke="#444"/><path d="M186.0,828.0 L186.2,826.7 L186.9,825.4 L188.0,824.2 L189.5,823.0 L191.4,821.9 L193.6,820.9 L196.2,820.1 L199.0,819.3 L202.1,818.8 L205.3,818.3 L208.6,818.1 L212.0,818.0 L215.4,818.1 L218.7,818.3 L221.9,818.8 L225.0,819.3 L227.8,820.1 L230.4,820.9 L232.6,821.9 L234.5,823.0 L236.0,824.2 L237.1,825.4 L237.8,826.7 L238.0,828.0 L238.0,865.0 L237.8,866.3 L237.1,867.6 L236.0,868.8 L234.5,870.0 L232.6,871.1 L230.4,872.1 L227.8,872.9 L225.0,873.7 L221.9,874.2 L218.7,874.7 L215.4,874.9 L212.0,875.0 L208.6,874.9 L205.3,874.7 L202.1,874.2 L199.0,873.7 L196.2,872.9 L193.6,872.1 L191.4,871.1 L189.5,870.0 L188.0,868.8 L186.9,867.6 L186.2,866.3 L186.0,865.0 Z" /><path d="M238.0,828.0 L237.8,826.7 L237.1,825.4 L236.0,824.2 L234.5,823.0 L232.6,821.9 L230.4,820.9 L227.8,820.1 L225.0,819.3 L221.9,818.8 L218.7,818.3 L215.4,818.1 L212.0,818.0 L208.6,818.1 L205.3,818.3 L202.1,818.8 L199.0,819.3 L196.2,820.1 L193.6,820.9 L191.4,821.9 L189.5,823.0 L188.0,824.2 L186.9,825.4 L186.2,826.7 L186.0,828.0 L186.2,829.3 L186.9,830.6 L188.0,831.8 L189.5,833.0 L191.4,834.1 L193.6,835.1 L196.2,835.9 L199.0,836.7 L202.1,837.2 L205.3,837.7 L208.6,837.9 L212.0,838.0 L215.4,837.9 L218.7,837.7 L221.9,837.2 L225.0,836.7 L227.8,835.9 L230.4,835.1 L232.6,834.1 L234.5,833.0 L236.0,831.8 L237.1,830.6 L237.8,829.3 L238.0,828.0 Z" fill="#fff"/><ellipse cx="212" cy="828" rx="14" ry="5" fill="none"/><path d="M402.0,980.0 L402.3,978.4 L403.2,976.9 L404.7,975.4 L406.7,974.0 L409.2,972.7 L412.2,971.5 L415.7,970.5 L419.5,969.6 L423.6,968.9 L427.9,968.4 L432.4,968.1 L437.0,968.0 L441.6,968.1 L446.1,968.4 L450.4,968.9 L454.5,969.6 L458.3,970.5 L461.8,971.5 L464.8,972.7 L467.3,974.0 L469.3,975.4 L470.8,976.9 L471.7,978.4 L472.0,980.0 L472.0,1060.0 L471.7,1061.6 L470.8,1063.1 L469.3,1064.6 L467.3,1066.0 L464.8,1067.3 L461.8,1068.5 L458.3,1069.5 L454.5,1070.4 L450.4,1071.1 L446.1,1071.6 L441.6,1071.9 L437.0,1072.0 L432.4,1071.9 L427.9,1071.6 L423.6,1071.1 L419.5,1070.4 L415.7,1069.5 L412.2,1068.5 L409.2,1067.3 L406.7,1066.0 L404.7,1064.6 L403.2,1063.1 L402.3,1061.6 L402.0,1060.0 Z" /><path d="M404,992 C420,1000 455,1000 470,992" fill="none" stroke="#555"/><path d="M404,1001 C420,1009 455,1009 470,1001" fill="none" stroke="#555"/><path d="M404,1010 C420,1018 455,1018 470,1010" fill="none" stroke="#555"/><path d="M404,1019 C420,1027 455,1027 470,1019" fill="none" stroke="#555"/><path d="M404,1028 C420,1036 455,1036 470,1028" fill="none" stroke="#555"/><path d="M404,1037 C420,1045 455,1045 470,1037" fill="none" stroke="#555"/><path d="M404,1046 C420,1054 455,1054 470,1046" fill="none" stroke="#555"/><path d="M404,1055 C420,1063 455,1063 470,1055" fill="none" stroke="#555"/><path d="M404,1064 C420,1072 455,1072 470,1064" fill="none" stroke="#555"/><ellipse cx="437" cy="1062" rx="33" ry="12" /><path d="M375.0,905.0 L375.5,902.1 L377.1,899.3 L379.7,896.6 L383.3,894.0 L387.8,891.6 L393.2,889.4 L399.3,887.5 L406.0,886.0 L413.3,884.7 L420.9,883.8 L428.9,883.2 L437.0,883.0 L445.1,883.2 L453.1,883.8 L460.7,884.7 L468.0,886.0 L474.7,887.5 L480.8,889.4 L486.2,891.6 L490.7,894.0 L494.3,896.6 L496.9,899.3 L498.5,902.1 L499.0,905.0 L499.0,985.0 L498.5,987.9 L496.9,990.7 L494.3,993.4 L490.7,996.0 L486.2,998.4 L480.8,1000.6 L474.7,1002.5 L468.0,1004.0 L460.7,1005.3 L453.1,1006.2 L445.1,1006.8 L437.0,1007.0 L428.9,1006.8 L420.9,1006.2 L413.3,1005.3 L406.0,1004.0 L399.3,1002.5 L393.2,1000.6 L387.8,998.4 L383.3,996.0 L379.7,993.4 L377.1,990.7 L375.5,987.9 L375.0,985.0 Z" /><path d="M499.0,905.0 L498.5,902.1 L496.9,899.3 L494.3,896.6 L490.7,894.0 L486.2,891.6 L480.8,889.4 L474.7,887.5 L468.0,885.9 L460.7,884.7 L453.0,883.7 L445.1,883.2 L437.0,883.0 L428.9,883.2 L421.0,883.7 L413.3,884.7 L406.0,885.9 L399.3,887.5 L393.2,889.4 L387.8,891.6 L383.3,894.0 L379.7,896.6 L377.1,899.3 L375.5,902.1 L375.0,905.0 L375.5,907.9 L377.1,910.7 L379.7,913.4 L383.3,916.0 L387.8,918.4 L393.2,920.6 L399.3,922.5 L406.0,924.1 L413.3,925.3 L421.0,926.3 L428.9,926.8 L437.0,927.0 L445.1,926.8 L453.0,926.3 L460.7,925.3 L468.0,924.1 L474.7,922.5 L480.8,920.6 L486.2,918.4 L490.7,916.0 L494.3,913.4 L496.9,910.7 L498.5,907.9 L499.0,905.0 Z" fill="#fff"/><path d="M375,955 C400,975 475,975 500,955" fill="none"/><path d="M401.0,710.0 L401.3,708.4 L402.2,706.9 L403.7,705.4 L405.8,704.0 L408.4,702.7 L411.5,701.5 L415.1,700.5 L419.0,699.6 L423.2,698.9 L427.7,698.4 L432.3,698.1 L437.0,698.0 L441.7,698.1 L446.3,698.4 L450.8,698.9 L455.0,699.6 L458.9,700.5 L462.5,701.5 L465.6,702.7 L468.2,704.0 L470.3,705.4 L471.8,706.9 L472.7,708.4 L473.0,710.0 L473.0,900.0 L472.7,901.6 L471.8,903.1 L470.3,904.6 L468.2,906.0 L465.6,907.3 L462.5,908.5 L458.9,909.5 L455.0,910.4 L450.8,911.1 L446.3,911.6 L441.7,911.9 L437.0,912.0 L432.3,911.9 L427.7,911.6 L423.2,911.1 L419.0,910.4 L415.1,909.5 L411.5,908.5 L408.4,907.3 L405.8,906.0 L403.7,904.6 L402.2,903.1 L401.3,901.6 L401.0,900.0 Z" /><path d="M473.0,710.0 L472.7,708.4 L471.8,706.9 L470.3,705.4 L468.2,704.0 L465.6,702.7 L462.5,701.5 L458.9,700.5 L455.0,699.6 L450.8,698.9 L446.3,698.4 L441.7,698.1 L437.0,698.0 L432.3,698.1 L427.7,698.4 L423.2,698.9 L419.0,699.6 L415.1,700.5 L411.5,701.5 L408.4,702.7 L405.8,704.0 L403.7,705.4 L402.2,706.9 L401.3,708.4 L401.0,710.0 L401.3,711.6 L402.2,713.1 L403.7,714.6 L405.8,716.0 L408.4,717.3 L411.5,718.5 L415.1,719.5 L419.0,720.4 L423.2,721.1 L427.7,721.6 L432.3,721.9 L437.0,722.0 L441.7,721.9 L446.3,721.6 L450.8,721.1 L455.0,720.4 L458.9,719.5 L462.5,718.5 L465.6,717.3 L468.2,716.0 L470.3,714.6 L471.8,713.1 L472.7,711.6 L473.0,710.0 Z" fill="#fff"/><path d="M401,812 C420,822 455,822 473,812" fill="none" stroke="#444"/><path d="M401,821 C420,831 455,831 473,821" fill="none" stroke="#444"/><path d="M401,830 C420,840 455,840 473,830" fill="none" stroke="#444"/><path d="M401,839 C420,849 455,849 473,839" fill="none" stroke="#444"/><path d="M401,848 C420,858 455,858 473,848" fill="none" stroke="#444"/><path d="M401,857 C420,867 455,867 473,857" fill="none" stroke="#444"/><path d="M401,790 C420,800 455,800 473,790 M401,770 C420,780 455,780 473,770" fill="none"/><path d="M417.0,680.0 L417.2,679.0 L417.7,677.9 L418.5,676.9 L419.7,676.0 L421.1,675.1 L422.9,674.3 L424.8,673.6 L427.0,673.1 L429.4,672.6 L431.8,672.3 L434.4,672.1 L437.0,672.0 L439.6,672.1 L442.2,672.3 L444.6,672.6 L447.0,673.1 L449.2,673.6 L451.1,674.3 L452.9,675.1 L454.3,676.0 L455.5,676.9 L456.3,677.9 L456.8,679.0 L457.0,680.0 L457.0,720.0 L456.8,721.0 L456.3,722.1 L455.5,723.1 L454.3,724.0 L452.9,724.9 L451.1,725.7 L449.2,726.4 L447.0,726.9 L444.6,727.4 L442.2,727.7 L439.6,727.9 L437.0,728.0 L434.4,727.9 L431.8,727.7 L429.4,727.4 L427.0,726.9 L424.8,726.4 L422.9,725.7 L421.1,724.9 L419.7,724.0 L418.5,723.1 L417.7,722.1 L417.2,721.0 L417.0,720.0 Z" /><path d="M457.0,680.0 L456.8,679.0 L456.3,677.9 L455.5,676.9 L454.3,676.0 L452.9,675.1 L451.1,674.3 L449.2,673.7 L447.0,673.1 L444.7,672.6 L442.2,672.3 L439.6,672.1 L437.0,672.0 L434.4,672.1 L431.8,672.3 L429.3,672.6 L427.0,673.1 L424.8,673.7 L422.9,674.3 L421.1,675.1 L419.7,676.0 L418.5,676.9 L417.7,677.9 L417.2,679.0 L417.0,680.0 L417.2,681.0 L417.7,682.1 L418.5,683.1 L419.7,684.0 L421.1,684.9 L422.9,685.7 L424.8,686.3 L427.0,686.9 L429.3,687.4 L431.8,687.7 L434.4,687.9 L437.0,688.0 L439.6,687.9 L442.2,687.7 L444.7,687.4 L447.0,686.9 L449.2,686.3 L451.1,685.7 L452.9,684.9 L454.3,684.0 L455.5,683.1 L456.3,682.1 L456.8,681.0 L457.0,680.0 Z" fill="#fff"/></g>
<g transform="translate(80,850) scale(0.234373)"><path d="M95,460 L795,58 C870,100 930,180 945,260 C960,370 930,450 870,520 C790,590 680,630 520,635 C380,635 250,610 160,580 C120,565 100,555 95,545 Z" /><path d="M95,460 C250,520 450,555 650,530 C800,500 900,420 932,320 C948,220 900,120 802,66" fill="none"/><path d="M100,476 C250,536 450,568 650,545 C800,515 900,435 940,330 C955,230 905,125 810,68" fill="none" stroke="#777"/><path d="M305,195 C305,150 370,112 455,112 C540,112 605,150 605,195 L612,265 C612,310 545,345 460,345 C375,345 310,310 308,265 Z" /><ellipse cx="455" cy="195" rx="150" ry="78" fill="none"/><ellipse cx="458" cy="208" rx="128" ry="62" /><path d="M308,240 C330,290 400,310 460,310 C530,310 590,285 610,245" fill="none"/><path d="M330,345 L345,305 L400,320 L390,362 L345,366 Z" /><path d="M600,185 L640,205 L636,222 L604,226 Z" /><path d="M335,180 L355,170 L350,200 L332,208 Z" fill="#bbb"/><path d="M465,92 L480,72 L505,76 L503,140 L490,160 L466,162 Z" /><path d="M480,72 L482,150" fill="none"/><ellipse cx="512" cy="115" rx="9" ry="14" fill="#333"/><ellipse cx="521" cy="118" rx="6" ry="10" /><path d="M524,135 L530,90 L545,80 L560,95 L580,110 L584,140 L560,150 L545,200 L520,205 Z" /><path d="M545,80 L548,150 M560,95 L562,148" fill="none"/><path d="M497,185 L510,172 L545,178 L548,200 L535,210 L500,205 Z" /><polyline points="455,70 455,190" fill="none" /><path d="M365.0,700.0 L365.7,693.7 L367.9,687.6 L371.5,681.6 L376.4,676.0 L382.6,670.8 L389.9,666.1 L398.3,661.9 L407.5,658.4 L417.5,655.6 L428.0,653.6 L438.9,652.4 L450.0,652.0 L461.1,652.4 L472.0,653.6 L482.5,655.6 L492.5,658.4 L501.7,661.9 L510.1,666.1 L517.4,670.8 L523.6,676.0 L528.5,681.6 L532.1,687.6 L534.3,693.7 L535.0,700.0 L535.0,738.0 L534.3,744.3 L532.1,750.4 L528.5,756.4 L523.6,762.0 L517.4,767.2 L510.1,771.9 L501.7,776.1 L492.5,779.6 L482.5,782.4 L472.0,784.4 L461.1,785.6 L450.0,786.0 L438.9,785.6 L428.0,784.4 L417.5,782.4 L407.5,779.6 L398.3,776.1 L389.9,771.9 L382.6,767.2 L376.4,762.0 L371.5,756.4 L367.9,750.4 L365.7,744.3 L365.0,738.0 Z" /><path d="M535.0,700.0 L534.3,693.7 L532.1,687.6 L528.5,681.6 L523.6,676.0 L517.4,670.8 L510.1,666.1 L501.7,661.9 L492.5,658.4 L482.5,655.7 L472.0,653.6 L461.1,652.4 L450.0,652.0 L438.9,652.4 L428.0,653.6 L417.5,655.7 L407.5,658.4 L398.3,661.9 L389.9,666.1 L382.6,670.8 L376.4,676.0 L371.5,681.6 L367.9,687.6 L365.7,693.7 L365.0,700.0 L365.7,706.3 L367.9,712.4 L371.5,718.4 L376.4,724.0 L382.6,729.2 L389.9,733.9 L398.3,738.1 L407.5,741.6 L417.5,744.3 L428.0,746.4 L438.9,747.6 L450.0,748.0 L461.1,747.6 L472.0,746.4 L482.5,744.3 L492.5,741.6 L501.7,738.1 L510.1,733.9 L517.4,729.2 L523.6,724.0 L528.5,718.4 L532.1,712.4 L534.3,706.3 L535.0,700.0 Z" fill="#fff"/><ellipse cx="450" cy="700" rx="72" ry="40" fill="none"/><path d="M398,690 L440,662 L505,688 L462,720 Z" /><ellipse cx="450" cy="692" rx="24" ry="12" /></g>
<g transform="translate(60,1030) scale(0.253936)"><path d="M60,318 A435,250 0 0 0 930,318" fill="none" stroke="#444" stroke-width="1.1" stroke-dasharray="6 3.5"/><ellipse cx="495" cy="300" rx="435" ry="250" fill="none" stroke="#444" stroke-width="1.1" stroke-dasharray="6 3.5"/><ellipse cx="495" cy="300" rx="190" ry="108" fill="none" stroke="#444" stroke-width="1.1" stroke-dasharray="6 3.5"/><ellipse cx="495" cy="302" rx="125" ry="72" fill="none" stroke="#444" stroke-width="1.1" stroke-dasharray="6 3.5"/><ellipse cx="495" cy="295" rx="85" ry="48" fill="none" stroke="#444" stroke-width="1.1" stroke-dasharray="6 3.5"/><ellipse cx="495" cy="290" rx="45" ry="25" fill="none" stroke="#444" stroke-width="1.1" stroke-dasharray="6 3.5"/><polyline points="495,30 495,290" fill="none" /><polyline points="495,580 495,640" fill="none" /><path d="M410.0,662.0 L410.7,656.3 L412.9,650.6 L416.5,645.2 L421.4,640.0 L427.6,635.2 L434.9,630.9 L443.3,627.1 L452.5,623.9 L462.5,621.4 L473.0,619.5 L483.9,618.4 L495.0,618.0 L506.1,618.4 L517.0,619.5 L527.5,621.4 L537.5,623.9 L546.7,627.1 L555.1,630.9 L562.4,635.2 L568.6,640.0 L573.5,645.2 L577.1,650.6 L579.3,656.3 L580.0,662.0 L580.0,688.0 L579.3,693.7 L577.1,699.4 L573.5,704.8 L568.6,710.0 L562.4,714.8 L555.1,719.1 L546.7,722.9 L537.5,726.1 L527.5,728.6 L517.0,730.5 L506.1,731.6 L495.0,732.0 L483.9,731.6 L473.0,730.5 L462.5,728.6 L452.5,726.1 L443.3,722.9 L434.9,719.1 L427.6,714.8 L421.4,710.0 L416.5,704.8 L412.9,699.4 L410.7,693.7 L410.0,688.0 Z" stroke-width="1.6"/><path d="M580.0,662.0 L579.3,656.3 L577.1,650.6 L573.5,645.2 L568.6,640.0 L562.4,635.2 L555.1,630.9 L546.7,627.1 L537.5,623.9 L527.5,621.3 L517.0,619.5 L506.1,618.4 L495.0,618.0 L483.9,618.4 L473.0,619.5 L462.5,621.3 L452.5,623.9 L443.3,627.1 L434.9,630.9 L427.6,635.2 L421.4,640.0 L416.5,645.2 L412.9,650.6 L410.7,656.3 L410.0,662.0 L410.7,667.7 L412.9,673.4 L416.5,678.8 L421.4,684.0 L427.6,688.8 L434.9,693.1 L443.3,696.9 L452.5,700.1 L462.5,702.7 L473.0,704.5 L483.9,705.6 L495.0,706.0 L506.1,705.6 L517.0,704.5 L527.5,702.7 L537.5,700.1 L546.7,696.9 L555.1,693.1 L562.4,688.8 L568.6,684.0 L573.5,678.8 L577.1,673.4 L579.3,667.7 L580.0,662.0 Z" fill="#fff"/><ellipse cx="495" cy="655" rx="48" ry="23" /><ellipse cx="495" cy="652" rx="30" ry="14" /><ellipse cx="495" cy="650" rx="15" ry="7" fill="none"/><ellipse cx="448" cy="630" rx="7" ry="5" /><ellipse cx="542" cy="630" rx="7" ry="5" /><ellipse cx="448" cy="684" rx="7" ry="5" /><ellipse cx="542" cy="684" rx="7" ry="5" /><polyline points="495,580 495,645" fill="none" /></g>
<g transform="translate(560,855) scale(0.126952)"><path d="M75,235 L110,215 L90,140 L150,110 L160,80 L200,65 L230,75 L290,55 L310,65 L310,100 L380,140 L420,160 L425,180 L415,195 L440,215 L470,205 L500,220 L505,240 L565,290 L600,330 L650,330 L700,370 L705,460 L715,480 L760,500 L800,490 L840,500 L895,555 L895,640 L870,670 L780,710 L740,740 L700,720 L560,620 L480,590 L320,520 L310,545 L270,555 L200,530 L180,480 L150,450 L130,400 L120,340 L115,295 L75,255 Z" stroke-width="1.3"/><path d="M75,235 L110,250 L560,520 L700,600 L740,620 M110,265 L560,540 L700,620 M130,310 L560,560 M115,295 L130,310" fill="none"/><path d="M330,280 L470,205 L510,230 L520,280 L420,330 L330,310 Z" fill="none"/><path d="M395,245 L440,225 L450,250 L405,270 Z" fill="#444"/><path d="M150,110 L180,140 L190,230 L170,290 M165,90 L195,120 L205,230 M230,75 L260,95 L265,160 M200,200 L270,240 L265,270" fill="none"/><ellipse cx="150" cy="250" rx="22" ry="20" /><ellipse cx="150" cy="252" rx="10" ry="9" fill="#333"/><path d="M290,55 L300,130 L330,140 L340,100 M380,140 L380,180 L410,195" fill="none"/><path d="M530,380 L560,360 L620,390 L640,350 L690,370 L700,460 L650,500 L600,520 L530,480 Z" fill="none"/><path d="M560,400 L560,470 M590,390 L595,500 M620,400 L625,510 M650,380 L655,490 M540,430 L690,420" fill="none"/><path d="M720,560 C740,540 790,520 830,540 L860,560 L860,610 L830,625 C800,600 770,600 745,615 Z" fill="none"/><path d="M760,565 C780,555 810,560 830,580 M750,590 C775,580 805,585 825,605 M800,500 L860,540" fill="none"/><path d="M180,470 L190,530 L270,555 M320,500 L320,520 M240,500 L300,520" fill="none"/><ellipse cx="330" cy="360" rx="10" ry="8" fill="#333"/><ellipse cx="460" cy="455" rx="10" ry="8" fill="#333"/><ellipse cx="215" cy="455" rx="8" ry="7" fill="#333"/><path d="M600,560 L620,640 M680,600 L690,680" fill="none"/><path d="M720,280 C725,260 760,245 800,240 L850,215 L870,205 L895,225 L900,245 L880,280 C850,310 810,330 770,328 C740,325 722,305 720,280 Z" /><ellipse cx="765" cy="292" rx="12" ry="8" /><path d="M850,215 L870,235 L895,228" fill="none"/><path d="M780,55 L815,55 L806,140 L788,142 Z" /><path d="M780,70 l33,-4" fill="none" stroke="#444"/><path d="M780,84 l33,-4" fill="none" stroke="#444"/><path d="M780,98 l33,-4" fill="none" stroke="#444"/><path d="M780,112 l33,-4" fill="none" stroke="#444"/><path d="M780,126 l33,-4" fill="none" stroke="#444"/><ellipse cx="800" cy="38" rx="32" ry="20" /><path d="M785,38 L815,38 M800,28 L800,48" fill="none"/><polyline points="788,165 782,262" fill="none" /><polyline points="760,345 740,610" fill="none" /></g>
</g>
<g class="t" font-size="12" fill="#111" stroke="#111" stroke-width="0.25" text-anchor="middle">
<text x="264.3" y="163.8">1</text>
<text x="258.4" y="190.3">2</text>
<text x="148.0" y="222.3">3</text>
<text x="299.5" y="238.1">4</text>
<text x="391.0" y="290.2">5</text>
<text x="416.2" y="305.2">6</text>
<text x="436.7" y="316.1">7</text>
<text x="464.0" y="332.5">8</text>
<text x="497.4" y="351.7">9</text>
<text x="529.2" y="367.3">10</text>
<text x="552.9" y="380.9">11</text>
<text x="656.5" y="418.3">12</text>
<text x="565.7" y="427.1">13</text>
<text x="686.7" y="497.3">14</text>
<text x="709.3" y="510.9">15</text>
<text x="786.3" y="516.8">16</text>
<text x="848.5" y="553.3">17</text>
<text x="615.7" y="565.2">18</text>
<text x="577.3" y="574.5">19</text>
<text x="480.9" y="599.4">20</text>
<text x="480.9" y="651.2">21</text>
<text x="590.5" y="698.8">22</text>
<text x="648.5" y="665.0">23</text>
<text x="600.5" y="685.3">24</text>
<text x="566.8" y="719.5">25</text>
<text x="352.6" y="840.3">26</text>
<text x="316.0" y="857.0">27</text>
<text x="421.2" y="814.8">28</text>
<text x="420.3" y="860.5">29</text>
<text x="594.7" y="741.6">30</text>
<text x="583.1" y="848.8">31</text>
<text x="755.7" y="765.8">32</text>
<text x="830.4" y="823.9">33</text>
<text x="823.8" y="1104.3">34</text>
<text x="717.2" y="1023.0">35</text>
<text x="629.7" y="969.3">36</text>
<text x="691.0" y="877.7">37</text>
<text x="639.5" y="877.7">38</text>
<text x="746.8" y="921.9">39</text>
<text x="452.5" y="1000.2">40</text>
<text x="280.7" y="419.5">41</text>
<text x="280.7" y="445.5">42</text>
<text x="122.5" y="400.9">43</text>
<text x="122.5" y="417.5">44</text>
<text x="122.5" y="431.3">45</text>
<text x="122.5" y="457.2">46</text>
<text x="122.5" y="486.9">47</text>
<text x="122.5" y="514.2">48</text>
<text x="122.5" y="535.2">49</text>
<text x="122.5" y="563.3">50</text>
<text x="122.5" y="582.8">51</text>
<text x="122.5" y="618.6">52</text>
<text x="122.5" y="648.8">53</text>
<text x="122.5" y="672.6">54</text>
<text x="122.5" y="711.9">55</text>
<text x="122.5" y="782.3">56</text>
<text x="122.5" y="828.7">57</text>
<text x="122.5" y="868.2">58</text>
<text x="122.2" y="1019.5">59</text>
<text x="122.2" y="1048.3">60</text>
<text x="122.2" y="1227.3">61</text>
</g>
</svg>
</body></html>
